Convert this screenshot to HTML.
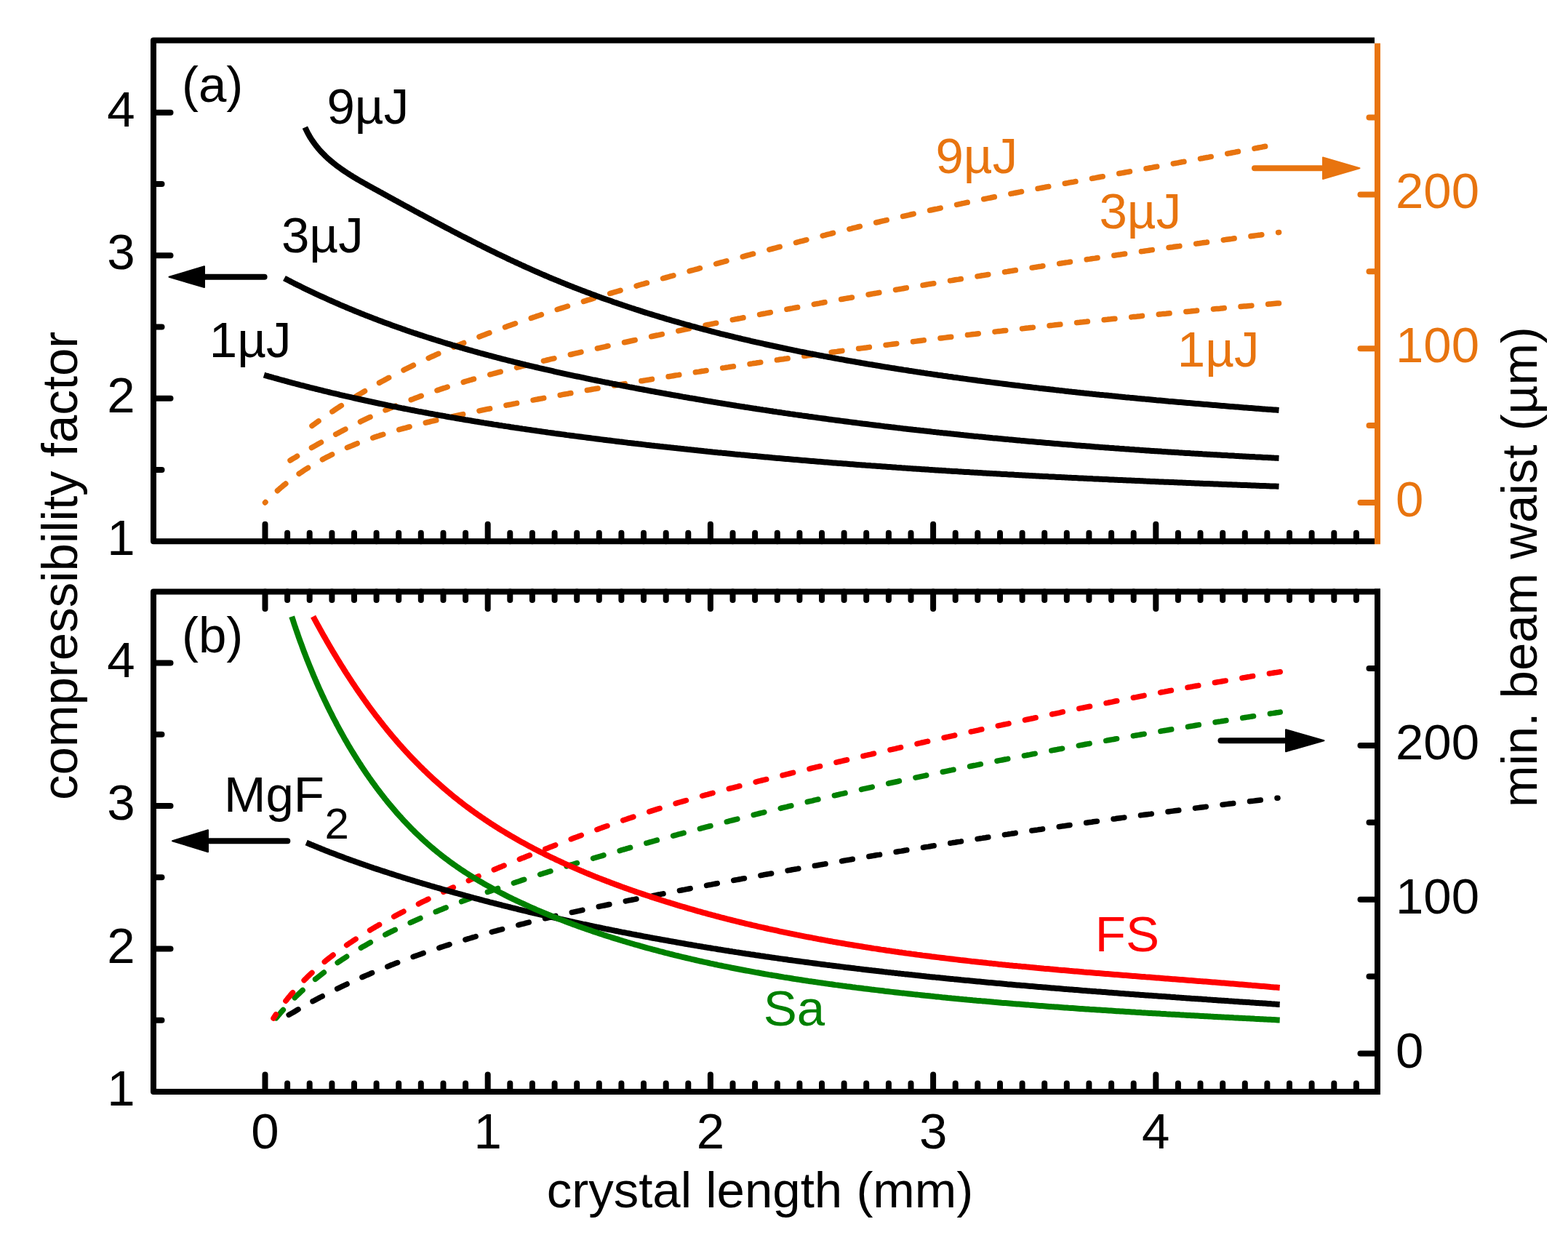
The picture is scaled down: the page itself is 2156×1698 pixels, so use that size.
<!DOCTYPE html>
<html><head><meta charset="utf-8"><title>plot</title><style>html,body{margin:0;padding:0;background:#fff;overflow:hidden}</style></head><body>
<svg xmlns="http://www.w3.org/2000/svg" width="2156" height="1698" viewBox="0 0 2156 1698" style="display:block;font-family:'Liberation Sans', Arial, sans-serif">
<rect width="2156" height="1698" fill="#fff"/>
<defs>
<clipPath id="clipa"><rect x="215" y="59.5" width="1675" height="680.7"/></clipPath>
<clipPath id="clipb"><rect x="215" y="817.5" width="1675" height="679.5"/></clipPath>
</defs>
<polyline clip-path="url(#clipa)" points="1758.6,416.9 1756.2,417.1 1753.8,417.3 1751.4,417.5 1749.0,417.7 1746.7,417.9 1744.3,418.1 1741.9,418.4 1739.5,418.6 1737.1,418.8 1734.7,419.0 1732.3,419.2 1729.9,419.4 1727.6,419.6 1725.2,419.8 1722.8,420.0 1720.4,420.3 1718.0,420.5 1715.6,420.7 1713.2,420.9 1710.8,421.1 1708.5,421.3 1706.1,421.5 1703.7,421.8 1701.3,422.0 1698.9,422.2 1696.5,422.4 1694.1,422.6 1691.7,422.8 1689.4,423.1 1687.0,423.3 1684.6,423.5 1682.2,423.7 1679.8,423.9 1677.4,424.2 1675.0,424.4 1672.6,424.6 1670.3,424.8 1667.9,425.0 1665.5,425.3 1663.1,425.5 1660.7,425.7 1658.3,425.9 1655.9,426.2 1653.5,426.4 1651.2,426.6 1648.8,426.8 1646.4,427.0 1644.0,427.3 1641.6,427.5 1639.2,427.7 1636.8,428.0 1634.4,428.2 1632.1,428.4 1629.7,428.6 1627.3,428.9 1624.9,429.1 1622.5,429.3 1620.1,429.5 1617.7,429.8 1615.3,430.0 1613.0,430.2 1610.6,430.5 1608.2,430.7 1605.8,430.9 1603.4,431.2 1601.0,431.4 1598.6,431.6 1596.2,431.9 1593.9,432.1 1591.5,432.3 1589.1,432.6 1586.7,432.8 1584.3,433.0 1581.9,433.3 1579.5,433.5 1577.2,433.7 1574.8,434.0 1572.4,434.2 1570.0,434.4 1567.6,434.7 1565.2,434.9 1562.8,435.2 1560.4,435.4 1558.1,435.6 1555.7,435.9 1553.3,436.1 1550.9,436.4 1548.5,436.6 1546.1,436.8 1543.7,437.1 1541.4,437.3 1539.0,437.6 1536.6,437.8 1534.2,438.1 1531.8,438.3 1529.4,438.5 1527.0,438.8 1524.6,439.0 1522.3,439.3 1519.9,439.5 1517.5,439.8 1515.1,440.0 1512.7,440.3 1510.3,440.5 1507.9,440.8 1505.6,441.0 1503.2,441.3 1500.8,441.5 1498.4,441.8 1496.0,442.0 1493.6,442.3 1491.2,442.5 1488.9,442.8 1486.5,443.0 1484.1,443.3 1481.7,443.5 1479.3,443.8 1476.9,444.0 1474.5,444.3 1472.2,444.5 1469.8,444.8 1467.4,445.0 1465.0,445.3 1462.6,445.6 1460.2,445.8 1457.8,446.1 1455.5,446.3 1453.1,446.6 1450.7,446.8 1448.3,447.1 1445.9,447.4 1443.5,447.6 1441.2,447.9 1438.8,448.1 1436.4,448.4 1434.0,448.7 1431.6,448.9 1429.2,449.2 1426.8,449.5 1424.5,449.7 1422.1,450.0 1419.7,450.3 1417.3,450.5 1414.9,450.8 1412.5,451.1 1410.2,451.3 1407.8,451.6 1405.4,451.9 1403.0,452.1 1400.6,452.4 1398.2,452.7 1395.9,452.9 1393.5,453.2 1391.1,453.5 1388.7,453.7 1386.3,454.0 1383.9,454.3 1381.6,454.6 1379.2,454.8 1376.8,455.1 1374.4,455.4 1372.0,455.6 1369.6,455.9 1367.3,456.2 1364.9,456.5 1362.5,456.8 1360.1,457.0 1357.7,457.3 1355.3,457.6 1353.0,457.9 1350.6,458.1 1348.2,458.4 1345.8,458.7 1343.4,459.0 1341.0,459.3 1338.7,459.5 1336.3,459.8 1333.9,460.1 1331.5,460.4 1329.1,460.7 1326.7,461.0 1324.4,461.2 1322.0,461.5 1319.6,461.8 1317.2,462.1 1314.8,462.4 1312.5,462.7 1310.1,463.0 1307.7,463.2 1305.3,463.5 1302.9,463.8 1300.5,464.1 1298.2,464.4 1295.8,464.7 1293.4,465.0 1291.0,465.3 1288.6,465.6 1286.3,465.8 1283.9,466.1 1281.5,466.4 1279.1,466.7 1276.7,467.0 1274.4,467.3 1272.0,467.6 1269.6,467.9 1267.2,468.2 1264.8,468.5 1262.5,468.8 1260.1,469.1 1257.7,469.4 1255.3,469.7 1252.9,470.0 1250.6,470.3 1248.2,470.6 1245.8,470.9 1243.4,471.2 1241.0,471.5 1238.7,471.8 1236.3,472.1 1233.9,472.4 1231.5,472.7 1229.1,473.0 1226.8,473.3 1224.4,473.6 1222.0,473.9 1219.6,474.2 1217.2,474.5 1214.9,474.9 1212.5,475.2 1210.1,475.5 1207.7,475.8 1205.4,476.1 1203.0,476.4 1200.6,476.7 1198.2,477.0 1195.8,477.3 1193.5,477.6 1191.1,478.0 1188.7,478.3 1186.3,478.6 1183.9,478.9 1181.6,479.2 1179.2,479.5 1176.8,479.9 1174.4,480.2 1172.1,480.5 1169.7,480.8 1167.3,481.1 1164.9,481.4 1162.6,481.8 1160.2,482.1 1157.8,482.4 1155.4,482.7 1153.0,483.0 1150.7,483.4 1148.3,483.7 1145.9,484.0 1143.5,484.3 1141.2,484.7 1138.8,485.0 1136.4,485.3 1134.0,485.6 1131.7,486.0 1129.3,486.3 1126.9,486.6 1124.5,487.0 1122.2,487.3 1119.8,487.6 1117.4,487.9 1115.0,488.3 1112.7,488.6 1110.3,488.9 1107.9,489.3 1105.5,489.6 1103.2,489.9 1100.8,490.3 1098.4,490.6 1096.0,490.9 1093.7,491.3 1091.3,491.6 1088.9,492.0 1086.5,492.3 1084.2,492.6 1081.8,493.0 1079.4,493.3 1077.1,493.7 1074.7,494.0 1072.3,494.3 1069.9,494.7 1067.6,495.0 1065.2,495.4 1062.8,495.7 1060.4,496.1 1058.1,496.4 1055.7,496.7 1053.3,497.1 1051.0,497.4 1048.6,497.8 1046.2,498.1 1043.8,498.5 1041.5,498.8 1039.1,499.2 1036.7,499.5 1034.3,499.9 1032.0,500.2 1029.6,500.6 1027.2,500.9 1024.9,501.3 1022.5,501.7 1020.1,502.0 1017.8,502.4 1015.4,502.7 1013.0,503.1 1010.6,503.4 1008.3,503.8 1005.9,504.1 1003.5,504.5 1001.2,504.9 998.8,505.2 996.4,505.6 994.1,505.9 991.7,506.3 989.3,506.7 986.9,507.0 984.6,507.4 982.2,507.8 979.8,508.1 977.5,508.5 975.1,508.9 972.7,509.2 970.4,509.6 968.0,510.0 965.6,510.3 963.3,510.7 960.9,511.1 958.5,511.4 956.2,511.8 953.8,512.2 951.4,512.6 949.1,512.9 946.7,513.3 944.3,513.7 942.0,514.1 939.6,514.4 937.2,514.8 934.9,515.2 932.5,515.6 930.1,515.9 927.8,516.3 925.4,516.7 923.0,517.1 920.7,517.5 918.3,517.8 915.9,518.2 913.6,518.6 911.2,519.0 908.8,519.4 906.5,519.8 904.1,520.2 901.7,520.5 899.4,520.9 897.0,521.3 894.6,521.7 892.3,522.1 889.9,522.5 887.5,522.9 885.2,523.3 882.8,523.7 880.5,524.0 878.1,524.4 875.7,524.8 873.4,525.2 871.0,525.6 868.6,526.0 866.3,526.4 863.9,526.8 861.6,527.2 859.2,527.6 856.8,528.0 854.5,528.4 852.1,528.8 849.7,529.2 847.4,529.6 845.0,530.0 842.7,530.4 840.3,530.8 837.9,531.2 835.6,531.6 833.2,532.0 830.9,532.4 828.5,532.8 826.1,533.2 823.8,533.7 821.4,534.1 819.0,534.5 816.7,534.9 814.3,535.3 812.0,535.7 809.6,536.1 807.2,536.5 804.9,537.0 802.5,537.4 800.2,537.8 797.8,538.2 795.5,538.6 793.1,539.0 790.7,539.5 788.4,539.9 786.0,540.3 783.7,540.7 781.3,541.2 778.9,541.6 776.6,542.0 774.2,542.4 771.9,542.9 769.5,543.3 767.1,543.7 764.8,544.2 762.4,544.6 760.1,545.0 757.7,545.5 755.4,545.9 753.0,546.3 750.6,546.8 748.3,547.2 745.9,547.7 743.6,548.1 741.2,548.5 738.9,549.0 736.5,549.4 734.1,549.9 731.8,550.3 729.4,550.8 727.1,551.2 724.7,551.7 722.4,552.1 720.0,552.6 717.6,553.0 715.3,553.5 712.9,554.0 710.6,554.4 708.2,554.9 705.8,555.3 703.5,555.8 701.1,556.3 698.8,556.7 696.4,557.2 694.1,557.7 691.7,558.1 689.3,558.6 687.0,559.1 684.6,559.6 682.3,560.0 679.9,560.5 677.6,561.0 675.2,561.5 672.8,562.0 670.5,562.4 668.1,562.9 665.8,563.4 663.4,563.9 661.1,564.4 658.7,564.9 656.3,565.4 654.0,565.9 651.6,566.4 649.3,566.9 646.9,567.4 644.6,567.9 642.2,568.4 639.8,568.9 637.5,569.4 635.1,569.9 632.8,570.4 630.4,570.9 628.0,571.4 625.7,571.9 623.3,572.5 621.0,573.0 618.6,573.5 616.3,574.0 613.9,574.5 611.5,575.1 609.2,575.6 606.8,576.1 604.5,576.7 602.1,577.2 599.8,577.8 597.4,578.3 595.1,578.9 592.7,579.4 590.4,580.0 588.0,580.5 585.7,581.1 583.3,581.7 581.0,582.2 578.6,582.8 576.3,583.4 574.0,584.0 571.6,584.6 569.3,585.2 567.0,585.8 564.6,586.4 562.3,587.0 560.0,587.6 557.7,588.3 555.4,588.9 553.0,589.5 550.7,590.2 548.4,590.8 546.1,591.5 543.8,592.1 541.5,592.8 539.2,593.5 536.9,594.2 534.6,594.9 532.3,595.6 530.0,596.3 527.7,597.0 525.5,597.7 523.2,598.4 520.9,599.2 518.7,599.9 516.4,600.7 514.1,601.4 511.9,602.2 509.6,603.0 507.4,603.8 505.1,604.6 502.9,605.4 500.7,606.2 498.4,607.0 496.2,607.9 494.0,608.7 491.8,609.5 489.6,610.4 487.4,611.3 485.2,612.2 483.0,613.1 480.8,614.0 478.6,614.9 476.4,615.8 474.3,616.7 472.1,617.7 470.0,618.7 467.8,619.6 465.7,620.6 463.5,621.6 461.4,622.6 459.3,623.6 457.1,624.7 455.0,625.7 452.9,626.8 450.8,627.8 448.7,628.9 446.6,630.0 444.5,631.1 442.5,632.2 440.4,633.3 438.3,634.5 436.3,635.7 434.2,636.8 432.2,638.0 430.2,639.2 428.1,640.4 426.1,641.6 424.1,642.9 422.1,644.1 420.1,645.4 418.1,646.7 416.2,648.0 414.2,649.3 412.2,650.6 410.3,652.0 408.3,653.3 406.4,654.7 404.5,656.1 402.6,657.5 400.7,658.9 398.8,660.4 396.9,661.8 395.0,663.3 393.1,664.8 391.3,666.3 389.4,667.8 387.6,669.4 385.7,670.9 383.9,672.5 382.1,674.1 380.3,675.7 378.5,677.3 376.7,679.0 374.9,680.6 373.2,682.3 371.4,684.0 369.6,685.7 367.9,687.4 366.2,689.2 364.5,691.0" fill="none" stroke="#E8740F" stroke-width="7.5" stroke-dasharray="14.908 22.859" stroke-dashoffset="-0.092" stroke-linejoin="round" stroke-linecap="round"/>
<polyline clip-path="url(#clipa)" points="1758.6,319.5 1756.3,319.8 1754.0,320.1 1751.6,320.4 1749.3,320.8 1747.0,321.1 1744.7,321.4 1742.3,321.7 1740.0,322.0 1737.7,322.3 1735.4,322.6 1733.1,323.0 1730.7,323.3 1728.4,323.6 1726.1,323.9 1723.8,324.2 1721.4,324.5 1719.1,324.9 1716.8,325.2 1714.5,325.5 1712.2,325.8 1709.8,326.1 1707.5,326.4 1705.2,326.8 1702.9,327.1 1700.5,327.4 1698.2,327.7 1695.9,328.0 1693.6,328.4 1691.3,328.7 1688.9,329.0 1686.6,329.3 1684.3,329.6 1682.0,330.0 1679.6,330.3 1677.3,330.6 1675.0,330.9 1672.7,331.2 1670.4,331.6 1668.0,331.9 1665.7,332.2 1663.4,332.5 1661.1,332.8 1658.7,333.2 1656.4,333.5 1654.1,333.8 1651.8,334.1 1649.5,334.5 1647.1,334.8 1644.8,335.1 1642.5,335.4 1640.2,335.7 1637.9,336.1 1635.5,336.4 1633.2,336.7 1630.9,337.0 1628.6,337.4 1626.2,337.7 1623.9,338.0 1621.6,338.4 1619.3,338.7 1617.0,339.0 1614.6,339.3 1612.3,339.7 1610.0,340.0 1607.7,340.3 1605.4,340.6 1603.0,341.0 1600.7,341.3 1598.4,341.6 1596.1,342.0 1593.8,342.3 1591.4,342.6 1589.1,343.0 1586.8,343.3 1584.5,343.6 1582.1,343.9 1579.8,344.3 1577.5,344.6 1575.2,344.9 1572.9,345.3 1570.5,345.6 1568.2,345.9 1565.9,346.3 1563.6,346.6 1561.3,346.9 1558.9,347.3 1556.6,347.6 1554.3,347.9 1552.0,348.3 1549.7,348.6 1547.3,349.0 1545.0,349.3 1542.7,349.6 1540.4,350.0 1538.1,350.3 1535.7,350.6 1533.4,351.0 1531.1,351.3 1528.8,351.6 1526.5,352.0 1524.2,352.3 1521.8,352.7 1519.5,353.0 1517.2,353.3 1514.9,353.7 1512.6,354.0 1510.2,354.4 1507.9,354.7 1505.6,355.1 1503.3,355.4 1501.0,355.7 1498.6,356.1 1496.3,356.4 1494.0,356.8 1491.7,357.1 1489.4,357.5 1487.0,357.8 1484.7,358.1 1482.4,358.5 1480.1,358.8 1477.8,359.2 1475.5,359.5 1473.1,359.9 1470.8,360.2 1468.5,360.6 1466.2,360.9 1463.9,361.3 1461.5,361.6 1459.2,362.0 1456.9,362.3 1454.6,362.7 1452.3,363.0 1450.0,363.4 1447.6,363.7 1445.3,364.1 1443.0,364.4 1440.7,364.8 1438.4,365.1 1436.1,365.5 1433.7,365.8 1431.4,366.2 1429.1,366.5 1426.8,366.9 1424.5,367.3 1422.2,367.6 1419.8,368.0 1417.5,368.3 1415.2,368.7 1412.9,369.0 1410.6,369.4 1408.3,369.8 1405.9,370.1 1403.6,370.5 1401.3,370.8 1399.0,371.2 1396.7,371.5 1394.4,371.9 1392.0,372.3 1389.7,372.6 1387.4,373.0 1385.1,373.4 1382.8,373.7 1380.5,374.1 1378.1,374.4 1375.8,374.8 1373.5,375.2 1371.2,375.5 1368.9,375.9 1366.6,376.3 1364.3,376.6 1361.9,377.0 1359.6,377.4 1357.3,377.7 1355.0,378.1 1352.7,378.5 1350.4,378.8 1348.1,379.2 1345.7,379.6 1343.4,380.0 1341.1,380.3 1338.8,380.7 1336.5,381.1 1334.2,381.4 1331.9,381.8 1329.5,382.2 1327.2,382.6 1324.9,382.9 1322.6,383.3 1320.3,383.7 1318.0,384.1 1315.7,384.4 1313.3,384.8 1311.0,385.2 1308.7,385.6 1306.4,385.9 1304.1,386.3 1301.8,386.7 1299.5,387.1 1297.2,387.5 1294.8,387.8 1292.5,388.2 1290.2,388.6 1287.9,389.0 1285.6,389.4 1283.3,389.8 1281.0,390.1 1278.7,390.5 1276.3,390.9 1274.0,391.3 1271.7,391.7 1269.4,392.1 1267.1,392.4 1264.8,392.8 1262.5,393.2 1260.2,393.6 1257.9,394.0 1255.5,394.4 1253.2,394.8 1250.9,395.2 1248.6,395.6 1246.3,395.9 1244.0,396.3 1241.7,396.7 1239.4,397.1 1237.1,397.5 1234.8,397.9 1232.4,398.3 1230.1,398.7 1227.8,399.1 1225.5,399.5 1223.2,399.9 1220.9,400.3 1218.6,400.7 1216.3,401.1 1214.0,401.5 1211.7,401.9 1209.3,402.3 1207.0,402.7 1204.7,403.1 1202.4,403.5 1200.1,403.9 1197.8,404.3 1195.5,404.7 1193.2,405.1 1190.9,405.5 1188.6,405.9 1186.3,406.3 1184.0,406.7 1181.6,407.1 1179.3,407.5 1177.0,407.9 1174.7,408.3 1172.4,408.8 1170.1,409.2 1167.8,409.6 1165.5,410.0 1163.2,410.4 1160.9,410.8 1158.6,411.2 1156.3,411.6 1154.0,412.1 1151.7,412.5 1149.4,412.9 1147.0,413.3 1144.7,413.7 1142.4,414.1 1140.1,414.5 1137.8,415.0 1135.5,415.4 1133.2,415.8 1130.9,416.2 1128.6,416.6 1126.3,417.1 1124.0,417.5 1121.7,417.9 1119.4,418.3 1117.1,418.8 1114.8,419.2 1112.5,419.6 1110.2,420.0 1107.9,420.5 1105.6,420.9 1103.3,421.3 1100.9,421.7 1098.6,422.2 1096.3,422.6 1094.0,423.0 1091.7,423.4 1089.4,423.9 1087.1,424.3 1084.8,424.7 1082.5,425.2 1080.2,425.6 1077.9,426.0 1075.6,426.5 1073.3,426.9 1071.0,427.4 1068.7,427.8 1066.4,428.2 1064.1,428.7 1061.8,429.1 1059.5,429.5 1057.2,430.0 1054.9,430.4 1052.6,430.9 1050.3,431.3 1048.0,431.7 1045.7,432.2 1043.4,432.6 1041.1,433.1 1038.8,433.5 1036.5,434.0 1034.2,434.4 1031.9,434.9 1029.6,435.3 1027.3,435.8 1025.0,436.2 1022.7,436.7 1020.4,437.1 1018.1,437.6 1015.8,438.0 1013.5,438.5 1011.2,438.9 1008.9,439.4 1006.6,439.8 1004.3,440.3 1002.0,440.7 999.7,441.2 997.4,441.7 995.1,442.1 992.8,442.6 990.5,443.0 988.2,443.5 985.9,444.0 983.6,444.4 981.3,444.9 979.0,445.3 976.7,445.8 974.4,446.3 972.1,446.7 969.8,447.2 967.5,447.7 965.2,448.1 962.9,448.6 960.7,449.1 958.4,449.5 956.1,450.0 953.8,450.5 951.5,451.0 949.2,451.4 946.9,451.9 944.6,452.4 942.3,452.9 940.0,453.3 937.7,453.8 935.4,454.3 933.1,454.8 930.8,455.2 928.5,455.7 926.2,456.2 923.9,456.7 921.6,457.2 919.3,457.6 917.1,458.1 914.8,458.6 912.5,459.1 910.2,459.6 907.9,460.1 905.6,460.6 903.3,461.0 901.0,461.5 898.7,462.0 896.4,462.5 894.1,463.0 891.8,463.5 889.6,464.0 887.3,464.5 885.0,465.0 882.7,465.5 880.4,466.0 878.1,466.5 875.8,467.0 873.5,467.5 871.2,468.0 868.9,468.5 866.6,469.0 864.4,469.5 862.1,470.0 859.8,470.5 857.5,471.0 855.2,471.5 852.9,472.0 850.6,472.5 848.3,473.0 846.0,473.5 843.8,474.0 841.5,474.5 839.2,475.0 836.9,475.5 834.6,476.0 832.3,476.6 830.0,477.1 827.7,477.6 825.5,478.1 823.2,478.6 820.9,479.1 818.6,479.6 816.3,480.2 814.0,480.7 811.7,481.2 809.5,481.7 807.2,482.2 804.9,482.8 802.6,483.3 800.3,483.8 798.0,484.3 795.7,484.9 793.5,485.4 791.2,485.9 788.9,486.4 786.6,487.0 784.3,487.5 782.0,488.0 779.8,488.6 777.5,489.1 775.2,489.6 772.9,490.2 770.6,490.7 768.3,491.2 766.1,491.8 763.8,492.3 761.5,492.9 759.2,493.4 756.9,493.9 754.7,494.5 752.4,495.0 750.1,495.6 747.8,496.1 745.5,496.7 743.3,497.2 741.0,497.8 738.7,498.3 736.4,498.9 734.2,499.5 731.9,500.0 729.6,500.6 727.3,501.1 725.1,501.7 722.8,502.3 720.5,502.8 718.2,503.4 716.0,504.0 713.7,504.5 711.4,505.1 709.2,505.7 706.9,506.3 704.6,506.8 702.4,507.4 700.1,508.0 697.8,508.6 695.6,509.2 693.3,509.8 691.0,510.4 688.8,511.0 686.5,511.6 684.2,512.2 682.0,512.8 679.7,513.4 677.5,514.0 675.2,514.6 672.9,515.2 670.7,515.8 668.4,516.4 666.2,517.0 663.9,517.7 661.7,518.3 659.4,518.9 657.2,519.5 654.9,520.2 652.7,520.8 650.4,521.4 648.2,522.1 645.9,522.7 643.7,523.4 641.5,524.0 639.2,524.7 637.0,525.4 634.7,526.0 632.5,526.7 630.3,527.4 628.0,528.1 625.8,528.7 623.6,529.4 621.4,530.1 619.1,530.8 616.9,531.5 614.7,532.2 612.5,533.0 610.2,533.7 608.0,534.4 605.8,535.1 603.6,535.9 601.4,536.6 599.2,537.3 597.0,538.1 594.8,538.8 592.6,539.6 590.4,540.4 588.2,541.2 586.0,541.9 583.8,542.7 581.6,543.5 579.4,544.3 577.2,545.1 575.0,545.9 572.8,546.7 570.7,547.5 568.5,548.4 566.3,549.2 564.1,550.0 562.0,550.9 559.8,551.7 557.6,552.6 555.4,553.4 553.3,554.3 551.1,555.1 549.0,556.0 546.8,556.9 544.6,557.8 542.5,558.7 540.3,559.6 538.2,560.5 536.0,561.4 533.9,562.3 531.7,563.2 529.6,564.1 527.5,565.1 525.3,566.0 523.2,566.9 521.1,567.9 518.9,568.8 516.8,569.8 514.7,570.8 512.6,571.7 510.4,572.7 508.3,573.7 506.2,574.7 504.1,575.7 502.0,576.7 499.9,577.7 497.8,578.7 495.7,579.7 493.6,580.8 491.5,581.8 489.4,582.8 487.3,583.9 485.2,584.9 483.1,586.0 481.0,587.0 478.9,588.1 476.8,589.2 474.7,590.2 472.7,591.3 470.6,592.4 468.5,593.5 466.4,594.6 464.4,595.7 462.3,596.8 460.2,597.9 458.2,599.0 456.1,600.1 454.0,601.2 452.0,602.4 449.9,603.5 447.9,604.6 445.8,605.8 443.7,606.9 441.7,608.1 439.6,609.2 437.6,610.4 435.6,611.5 433.5,612.7 431.5,613.9 429.4,615.0 427.4,616.2 425.3,617.4 423.3,618.6 421.3,619.8 419.2,620.9 417.2,622.1 415.2,623.3 413.2,624.5 411.1,625.7 409.1,626.9 407.1,628.2 405.1,629.4 403.0,630.6 401.0,631.8 399.0,633.0" fill="none" stroke="#E8740F" stroke-width="7.5" stroke-dasharray="15.002 23.003" stroke-dashoffset="14.002" stroke-linejoin="round" stroke-linecap="round"/>
<polyline clip-path="url(#clipa)" points="1739.7,201.3 1737.4,201.7 1735.2,202.2 1732.9,202.6 1730.6,203.0 1728.3,203.5 1726.0,203.9 1723.7,204.4 1721.4,204.8 1719.1,205.2 1716.9,205.7 1714.6,206.1 1712.3,206.6 1710.0,207.0 1707.7,207.4 1705.4,207.9 1703.1,208.3 1700.8,208.7 1698.5,209.2 1696.3,209.6 1694.0,210.0 1691.7,210.5 1689.4,210.9 1687.1,211.3 1684.8,211.8 1682.5,212.2 1680.2,212.6 1677.9,213.1 1675.6,213.5 1673.3,213.9 1671.1,214.4 1668.8,214.8 1666.5,215.2 1664.2,215.6 1661.9,216.1 1659.6,216.5 1657.3,216.9 1655.0,217.3 1652.7,217.8 1650.4,218.2 1648.1,218.6 1645.8,219.0 1643.6,219.5 1641.3,219.9 1639.0,220.3 1636.7,220.7 1634.4,221.1 1632.1,221.6 1629.8,222.0 1627.5,222.4 1625.2,222.8 1622.9,223.2 1620.6,223.7 1618.3,224.1 1616.0,224.5 1613.7,224.9 1611.4,225.3 1609.2,225.8 1606.9,226.2 1604.6,226.6 1602.3,227.0 1600.0,227.4 1597.7,227.9 1595.4,228.3 1593.1,228.7 1590.8,229.1 1588.5,229.5 1586.2,229.9 1583.9,230.4 1581.6,230.8 1579.3,231.2 1577.0,231.6 1574.7,232.0 1572.5,232.4 1570.2,232.9 1567.9,233.3 1565.6,233.7 1563.3,234.1 1561.0,234.5 1558.7,235.0 1556.4,235.4 1554.1,235.8 1551.8,236.2 1549.5,236.6 1547.2,237.0 1544.9,237.5 1542.6,237.9 1540.3,238.3 1538.0,238.7 1535.7,239.1 1533.4,239.5 1531.2,240.0 1528.9,240.4 1526.6,240.8 1524.3,241.2 1522.0,241.6 1519.7,242.1 1517.4,242.5 1515.1,242.9 1512.8,243.3 1510.5,243.7 1508.2,244.1 1505.9,244.6 1503.6,245.0 1501.3,245.4 1499.0,245.8 1496.7,246.2 1494.5,246.7 1492.2,247.1 1489.9,247.5 1487.6,247.9 1485.3,248.4 1483.0,248.8 1480.7,249.2 1478.4,249.6 1476.1,250.1 1473.8,250.5 1471.5,250.9 1469.2,251.3 1466.9,251.8 1464.6,252.2 1462.4,252.6 1460.1,253.0 1457.8,253.5 1455.5,253.9 1453.2,254.3 1450.9,254.7 1448.6,255.2 1446.3,255.6 1444.0,256.0 1441.7,256.5 1439.4,256.9 1437.1,257.3 1434.9,257.8 1432.6,258.2 1430.3,258.6 1428.0,259.1 1425.7,259.5 1423.4,259.9 1421.1,260.4 1418.8,260.8 1416.5,261.2 1414.2,261.7 1411.9,262.1 1409.7,262.6 1407.4,263.0 1405.1,263.4 1402.8,263.9 1400.5,264.3 1398.2,264.8 1395.9,265.2 1393.6,265.7 1391.3,266.1 1389.1,266.5 1386.8,267.0 1384.5,267.4 1382.2,267.9 1379.9,268.3 1377.6,268.8 1375.3,269.2 1373.0,269.7 1370.8,270.1 1368.5,270.6 1366.2,271.0 1363.9,271.5 1361.6,272.0 1359.3,272.4 1357.0,272.9 1354.8,273.3 1352.5,273.8 1350.2,274.2 1347.9,274.7 1345.6,275.2 1343.3,275.6 1341.1,276.1 1338.8,276.6 1336.5,277.0 1334.2,277.5 1331.9,278.0 1329.6,278.4 1327.4,278.9 1325.1,279.4 1322.8,279.8 1320.5,280.3 1318.2,280.8 1315.9,281.3 1313.7,281.7 1311.4,282.2 1309.1,282.7 1306.8,283.2 1304.5,283.7 1302.3,284.1 1300.0,284.6 1297.7,285.1 1295.4,285.6 1293.1,286.1 1290.9,286.6 1288.6,287.1 1286.3,287.5 1284.0,288.0 1281.8,288.5 1279.5,289.0 1277.2,289.5 1274.9,290.0 1272.7,290.5 1270.4,291.0 1268.1,291.5 1265.8,292.0 1263.6,292.5 1261.3,293.0 1259.0,293.5 1256.7,294.0 1254.5,294.5 1252.2,295.0 1249.9,295.6 1247.6,296.1 1245.4,296.6 1243.1,297.1 1240.8,297.6 1238.5,298.1 1236.3,298.6 1234.0,299.2 1231.7,299.7 1229.5,300.2 1227.2,300.7 1224.9,301.3 1222.7,301.8 1220.4,302.3 1218.1,302.8 1215.8,303.4 1213.6,303.9 1211.3,304.4 1209.0,305.0 1206.8,305.5 1204.5,306.0 1202.2,306.6 1200.0,307.1 1197.7,307.7 1195.4,308.2 1193.2,308.8 1190.9,309.3 1188.7,309.8 1186.4,310.4 1184.1,310.9 1181.9,311.5 1179.6,312.0 1177.3,312.6 1175.1,313.1 1172.8,313.7 1170.5,314.3 1168.3,314.8 1166.0,315.4 1163.8,315.9 1161.5,316.5 1159.2,317.0 1157.0,317.6 1154.7,318.2 1152.5,318.7 1150.2,319.3 1147.9,319.9 1145.7,320.4 1143.4,321.0 1141.2,321.6 1138.9,322.1 1136.6,322.7 1134.4,323.3 1132.1,323.8 1129.9,324.4 1127.6,325.0 1125.3,325.6 1123.1,326.1 1120.8,326.7 1118.6,327.3 1116.3,327.9 1114.1,328.5 1111.8,329.0 1109.6,329.6 1107.3,330.2 1105.0,330.8 1102.8,331.4 1100.5,331.9 1098.3,332.5 1096.0,333.1 1093.8,333.7 1091.5,334.3 1089.3,334.9 1087.0,335.5 1084.8,336.0 1082.5,336.6 1080.2,337.2 1078.0,337.8 1075.7,338.4 1073.5,339.0 1071.2,339.6 1069.0,340.2 1066.7,340.8 1064.5,341.4 1062.2,342.0 1060.0,342.6 1057.7,343.2 1055.5,343.7 1053.2,344.3 1051.0,344.9 1048.7,345.5 1046.5,346.1 1044.2,346.7 1042.0,347.3 1039.7,347.9 1037.5,348.5 1035.2,349.1 1033.0,349.7 1030.7,350.3 1028.5,350.9 1026.2,351.5 1024.0,352.1 1021.7,352.8 1019.5,353.4 1017.2,354.0 1015.0,354.6 1012.7,355.2 1010.5,355.8 1008.3,356.4 1006.0,357.0 1003.8,357.6 1001.5,358.2 999.3,358.8 997.0,359.4 994.8,360.0 992.5,360.6 990.3,361.2 988.0,361.8 985.8,362.4 983.5,363.1 981.3,363.7 979.1,364.3 976.8,364.9 974.6,365.5 972.3,366.1 970.1,366.7 967.8,367.3 965.6,367.9 963.3,368.5 961.1,369.1 958.8,369.8 956.6,370.4 954.4,371.0 952.1,371.6 949.9,372.2 947.6,372.8 945.4,373.4 943.1,374.1 940.9,374.7 938.7,375.3 936.4,375.9 934.2,376.5 931.9,377.1 929.7,377.8 927.4,378.4 925.2,379.0 923.0,379.6 920.7,380.2 918.5,380.9 916.2,381.5 914.0,382.1 911.7,382.7 909.5,383.4 907.3,384.0 905.0,384.6 902.8,385.2 900.5,385.9 898.3,386.5 896.1,387.1 893.8,387.7 891.6,388.4 889.3,389.0 887.1,389.6 884.8,390.3 882.6,390.9 880.4,391.5 878.1,392.2 875.9,392.8 873.6,393.5 871.4,394.1 869.2,394.7 866.9,395.4 864.7,396.0 862.4,396.7 860.2,397.3 858.0,397.9 855.7,398.6 853.5,399.2 851.2,399.9 849.0,400.5 846.8,401.2 844.5,401.8 842.3,402.5 840.0,403.1 837.8,403.8 835.6,404.4 833.3,405.1 831.1,405.8 828.8,406.4 826.6,407.1 824.4,407.7 822.1,408.4 819.9,409.1 817.6,409.7 815.4,410.4 813.2,411.1 810.9,411.8 808.7,412.4 806.5,413.1 804.2,413.8 802.0,414.5 799.8,415.1 797.5,415.8 795.3,416.5 793.0,417.2 790.8,417.9 788.6,418.6 786.3,419.2 784.1,419.9 781.9,420.6 779.7,421.3 777.4,422.0 775.2,422.7 773.0,423.4 770.7,424.1 768.5,424.8 766.3,425.5 764.1,426.2 761.8,427.0 759.6,427.7 757.4,428.4 755.2,429.1 752.9,429.8 750.7,430.5 748.5,431.3 746.3,432.0 744.1,432.7 741.8,433.5 739.6,434.2 737.4,434.9 735.2,435.7 733.0,436.4 730.8,437.2 728.5,437.9 726.3,438.6 724.1,439.4 721.9,440.2 719.7,440.9 717.5,441.7 715.3,442.4 713.1,443.2 710.9,444.0 708.7,444.7 706.5,445.5 704.3,446.3 702.1,447.1 699.9,447.8 697.7,448.6 695.5,449.4 693.3,450.2 691.1,451.0 688.9,451.8 686.7,452.6 684.5,453.4 682.3,454.2 680.1,455.0 678.0,455.8 675.8,456.6 673.6,457.5 671.4,458.3 669.2,459.1 667.1,459.9 664.9,460.8 662.7,461.6 660.5,462.4 658.4,463.3 656.2,464.1 654.0,465.0 651.8,465.8 649.7,466.7 647.5,467.5 645.4,468.4 643.2,469.3 641.0,470.1 638.9,471.0 636.7,471.9 634.6,472.8 632.4,473.7 630.3,474.5 628.1,475.4 626.0,476.3 623.8,477.2 621.7,478.1 619.5,479.0 617.4,480.0 615.3,480.9 613.1,481.8 611.0,482.7 608.9,483.6 606.7,484.6 604.6,485.5 602.5,486.4 600.3,487.4 598.2,488.3 596.1,489.3 594.0,490.2 591.9,491.2 589.8,492.2 587.6,493.1 585.5,494.1 583.4,495.1 581.3,496.1 579.2,497.1 577.1,498.0 575.0,499.0 572.9,500.0 570.8,501.0 568.7,502.0 566.6,503.1 564.6,504.1 562.5,505.1 560.4,506.1 558.3,507.2 556.2,508.2 554.2,509.2 552.1,510.3 550.0,511.3 547.9,512.4 545.9,513.4 543.8,514.5 541.8,515.6 539.7,516.7 537.6,517.7 535.6,518.8 533.5,519.9 531.5,521.0 529.4,522.1 527.4,523.2 525.4,524.3 523.3,525.4 521.3,526.5 519.3,527.7 517.2,528.8 515.2,529.9 513.2,531.1 511.1,532.2 509.1,533.4 507.1,534.5 505.1,535.7 503.1,536.9 501.1,538.0 499.1,539.2 497.1,540.4 495.1,541.6 493.1,542.8 491.1,544.0 489.1,545.2 487.1,546.4 485.1,547.6 483.1,548.8 481.2,550.1 479.2,551.3 477.2,552.5 475.3,553.8 473.3,555.0 471.3,556.3 469.4,557.6 467.4,558.8 465.5,560.1 463.5,561.4 461.6,562.7 459.6,564.0 457.7,565.3 455.7,566.6 453.8,567.9 451.9,569.2 450.0,570.5 448.0,571.8 446.1,573.2 444.2,574.5 442.3,575.9 440.4,577.2 438.5,578.6 436.6,579.9 434.7,581.3 432.8,582.7 430.9,584.1 429.0,585.5" fill="none" stroke="#E8740F" stroke-width="7.5" stroke-dasharray="14.953 22.928" stroke-dashoffset="-0.047" stroke-linejoin="round" stroke-linecap="round"/>
<polyline clip-path="url(#clipa)" points="419.4,175.1 420.4,177.3 421.5,179.5 422.5,181.6 423.7,183.8 424.8,185.8 426.0,187.9 427.2,189.9 428.5,191.9 429.8,193.8 431.1,195.7 432.5,197.6 433.9,199.5 435.3,201.3 436.8,203.1 438.2,204.8 439.8,206.6 441.3,208.3 442.9,209.9 444.5,211.6 446.1,213.2 447.7,214.8 449.4,216.4 451.1,217.9 452.8,219.4 454.5,221.0 456.3,222.4 458.1,223.9 459.9,225.3 461.7,226.8 463.5,228.2 465.4,229.5 467.3,230.9 469.2,232.3 471.1,233.6 473.0,234.9 474.9,236.2 476.9,237.5 478.8,238.8 480.8,240.0 482.8,241.3 484.8,242.5 486.8,243.8 488.9,245.0 490.9,246.2 492.9,247.4 495.0,248.6 497.0,249.8 499.1,250.9 501.2,252.1 503.3,253.3 505.3,254.5 507.4,255.6 509.5,256.8 511.6,257.9 513.7,259.1 515.8,260.2 517.9,261.4 520.0,262.5 522.1,263.7 524.2,264.8 526.3,266.0 528.4,267.1 530.4,268.3 532.5,269.4 534.6,270.6 536.7,271.7 538.8,272.9 540.9,274.0 543.0,275.2 545.1,276.3 547.2,277.5 549.3,278.6 551.4,279.8 553.5,280.9 555.6,282.1 557.7,283.2 559.8,284.3 561.9,285.5 564.0,286.6 566.1,287.8 568.2,288.9 570.3,290.1 572.4,291.2 574.5,292.3 576.6,293.5 578.7,294.6 580.9,295.7 583.0,296.9 585.1,298.0 587.2,299.1 589.3,300.3 591.4,301.4 593.5,302.5 595.6,303.6 597.7,304.8 599.8,305.9 601.9,307.0 604.1,308.1 606.2,309.3 608.3,310.4 610.4,311.5 612.5,312.6 614.6,313.7 616.7,314.8 618.9,315.9 621.0,317.1 623.1,318.2 625.2,319.3 627.3,320.4 629.5,321.5 631.6,322.6 633.7,323.7 635.8,324.8 637.9,325.8 640.1,326.9 642.2,328.0 644.3,329.1 646.5,330.2 648.6,331.3 650.7,332.4 652.8,333.4 655.0,334.5 657.1,335.6 659.2,336.7 661.4,337.7 663.5,338.8 665.6,339.8 667.8,340.9 669.9,342.0 672.1,343.0 674.2,344.1 676.3,345.1 678.5,346.2 680.6,347.2 682.8,348.3 684.9,349.3 687.1,350.3 689.2,351.4 691.4,352.4 693.5,353.4 695.7,354.4 697.8,355.5 700.0,356.5 702.1,357.5 704.3,358.5 706.4,359.5 708.6,360.5 710.8,361.5 712.9,362.5 715.1,363.5 717.2,364.5 719.4,365.5 721.6,366.5 723.7,367.5 725.9,368.4 728.1,369.4 730.3,370.4 732.4,371.4 734.6,372.3 736.8,373.3 739.0,374.2 741.1,375.2 743.3,376.1 745.5,377.1 747.7,378.0 749.9,379.0 752.0,379.9 754.2,380.8 756.4,381.8 758.6,382.7 760.8,383.6 763.0,384.5 765.2,385.4 767.4,386.3 769.6,387.2 771.8,388.1 774.0,389.0 776.2,389.9 778.4,390.8 780.6,391.7 782.8,392.6 785.0,393.4 787.2,394.3 789.4,395.2 791.6,396.0 793.8,396.9 796.1,397.8 798.3,398.6 800.5,399.5 802.7,400.3 804.9,401.1 807.1,402.0 809.4,402.8 811.6,403.6 813.8,404.5 816.0,405.3 818.3,406.1 820.5,406.9 822.7,407.7 825.0,408.6 827.2,409.4 829.4,410.2 831.6,411.0 833.9,411.8 836.1,412.5 838.4,413.3 840.6,414.1 842.8,414.9 845.1,415.7 847.3,416.4 849.6,417.2 851.8,418.0 854.1,418.7 856.3,419.5 858.6,420.3 860.8,421.0 863.1,421.8 865.3,422.5 867.6,423.3 869.8,424.0 872.1,424.7 874.3,425.5 876.6,426.2 878.8,426.9 881.1,427.6 883.4,428.4 885.6,429.1 887.9,429.8 890.2,430.5 892.4,431.2 894.7,431.9 897.0,432.6 899.2,433.3 901.5,434.0 903.8,434.7 906.0,435.4 908.3,436.1 910.6,436.7 912.9,437.4 915.1,438.1 917.4,438.8 919.7,439.4 922.0,440.1 924.2,440.8 926.5,441.4 928.8,442.1 931.1,442.7 933.4,443.4 935.7,444.0 937.9,444.7 940.2,445.3 942.5,446.0 944.8,446.6 947.1,447.2 949.4,447.9 951.7,448.5 954.0,449.1 956.3,449.7 958.5,450.4 960.8,451.0 963.1,451.6 965.4,452.2 967.7,452.8 970.0,453.4 972.3,454.0 974.6,454.6 976.9,455.2 979.2,455.8 981.5,456.4 983.8,457.0 986.1,457.6 988.4,458.2 990.7,458.8 993.0,459.3 995.4,459.9 997.7,460.5 1000.0,461.0 1002.3,461.6 1004.6,462.2 1006.9,462.7 1009.2,463.3 1011.5,463.9 1013.8,464.4 1016.1,465.0 1018.5,465.5 1020.8,466.1 1023.1,466.6 1025.4,467.2 1027.7,467.7 1030.0,468.2 1032.4,468.8 1034.7,469.3 1037.0,469.8 1039.3,470.4 1041.6,470.9 1044.0,471.4 1046.3,471.9 1048.6,472.4 1050.9,473.0 1053.2,473.5 1055.6,474.0 1057.9,474.5 1060.2,475.0 1062.6,475.5 1064.9,476.0 1067.2,476.5 1069.5,477.0 1071.9,477.5 1074.2,478.0 1076.5,478.5 1078.8,479.0 1081.2,479.5 1083.5,480.0 1085.8,480.4 1088.2,480.9 1090.5,481.4 1092.8,481.9 1095.2,482.3 1097.5,482.8 1099.8,483.3 1102.2,483.8 1104.5,484.2 1106.9,484.7 1109.2,485.2 1111.5,485.6 1113.9,486.1 1116.2,486.5 1118.5,487.0 1120.9,487.4 1123.2,487.9 1125.6,488.3 1127.9,488.8 1130.2,489.2 1132.6,489.7 1134.9,490.1 1137.3,490.5 1139.6,491.0 1141.9,491.4 1144.3,491.9 1146.6,492.3 1149.0,492.7 1151.3,493.1 1153.7,493.6 1156.0,494.0 1158.4,494.4 1160.7,494.8 1163.0,495.3 1165.4,495.7 1167.7,496.1 1170.1,496.5 1172.4,496.9 1174.8,497.3 1177.1,497.7 1179.5,498.1 1181.8,498.5 1184.2,499.0 1186.5,499.4 1188.9,499.8 1191.2,500.2 1193.6,500.6 1195.9,501.0 1198.3,501.3 1200.6,501.7 1203.0,502.1 1205.3,502.5 1207.7,502.9 1210.0,503.3 1212.4,503.7 1214.7,504.1 1217.1,504.5 1219.4,504.8 1221.8,505.2 1224.1,505.6 1226.5,506.0 1228.8,506.3 1231.2,506.7 1233.5,507.1 1235.9,507.5 1238.2,507.8 1240.6,508.2 1242.9,508.6 1245.3,508.9 1247.6,509.3 1250.0,509.7 1252.3,510.0 1254.7,510.4 1257.0,510.8 1259.4,511.1 1261.7,511.5 1264.1,511.8 1266.5,512.2 1268.8,512.5 1271.2,512.9 1273.5,513.2 1275.9,513.6 1278.2,513.9 1280.6,514.3 1282.9,514.6 1285.3,515.0 1287.6,515.3 1290.0,515.7 1292.4,516.0 1294.7,516.3 1297.1,516.7 1299.4,517.0 1301.8,517.3 1304.1,517.7 1306.5,518.0 1308.8,518.3 1311.2,518.7 1313.6,519.0 1315.9,519.3 1318.3,519.6 1320.6,520.0 1323.0,520.3 1325.3,520.6 1327.7,520.9 1330.1,521.3 1332.4,521.6 1334.8,521.9 1337.1,522.2 1339.5,522.5 1341.9,522.8 1344.2,523.2 1346.6,523.5 1348.9,523.8 1351.3,524.1 1353.6,524.4 1356.0,524.7 1358.4,525.0 1360.7,525.3 1363.1,525.6 1365.4,525.9 1367.8,526.2 1370.2,526.5 1372.5,526.8 1374.9,527.1 1377.2,527.4 1379.6,527.7 1382.0,528.0 1384.3,528.3 1386.7,528.6 1389.0,528.9 1391.4,529.2 1393.8,529.5 1396.1,529.8 1398.5,530.0 1400.9,530.3 1403.2,530.6 1405.6,530.9 1407.9,531.2 1410.3,531.5 1412.7,531.7 1415.0,532.0 1417.4,532.3 1419.8,532.6 1422.1,532.9 1424.5,533.1 1426.8,533.4 1429.2,533.7 1431.6,533.9 1433.9,534.2 1436.3,534.5 1438.7,534.8 1441.0,535.0 1443.4,535.3 1445.7,535.6 1448.1,535.8 1450.5,536.1 1452.8,536.4 1455.2,536.6 1457.6,536.9 1459.9,537.1 1462.3,537.4 1464.7,537.7 1467.0,537.9 1469.4,538.2 1471.8,538.4 1474.1,538.7 1476.5,538.9 1478.9,539.2 1481.2,539.5 1483.6,539.7 1485.9,540.0 1488.3,540.2 1490.7,540.5 1493.0,540.7 1495.4,540.9 1497.8,541.2 1500.1,541.4 1502.5,541.7 1504.9,541.9 1507.2,542.2 1509.6,542.4 1512.0,542.7 1514.3,542.9 1516.7,543.1 1519.1,543.4 1521.4,543.6 1523.8,543.8 1526.2,544.1 1528.5,544.3 1530.9,544.6 1533.3,544.8 1535.6,545.0 1538.0,545.3 1540.4,545.5 1542.7,545.7 1545.1,545.9 1547.5,546.2 1549.9,546.4 1552.2,546.6 1554.6,546.9 1557.0,547.1 1559.3,547.3 1561.7,547.5 1564.1,547.8 1566.4,548.0 1568.8,548.2 1571.2,548.4 1573.5,548.6 1575.9,548.9 1578.3,549.1 1580.6,549.3 1583.0,549.5 1585.4,549.7 1587.7,549.9 1590.1,550.2 1592.5,550.4 1594.9,550.6 1597.2,550.8 1599.6,551.0 1602.0,551.2 1604.3,551.4 1606.7,551.7 1609.1,551.9 1611.4,552.1 1613.8,552.3 1616.2,552.5 1618.6,552.7 1620.9,552.9 1623.3,553.1 1625.7,553.3 1628.0,553.5 1630.4,553.7 1632.8,553.9 1635.1,554.1 1637.5,554.3 1639.9,554.5 1642.3,554.7 1644.6,554.9 1647.0,555.1 1649.4,555.3 1651.7,555.5 1654.1,555.7 1656.5,555.9 1658.9,556.1 1661.2,556.3 1663.6,556.5 1666.0,556.7 1668.3,556.9 1670.7,557.1 1673.1,557.3 1675.5,557.5 1677.8,557.7 1680.2,557.9 1682.6,558.1 1684.9,558.3 1687.3,558.5 1689.7,558.7 1692.1,558.9 1694.4,559.0 1696.8,559.2 1699.2,559.4 1701.6,559.6 1703.9,559.8 1706.3,560.0 1708.7,560.2 1711.0,560.4 1713.4,560.5 1715.8,560.7 1718.2,560.9 1720.5,561.1 1722.9,561.3 1725.3,561.5 1727.7,561.7 1730.0,561.8 1732.4,562.0 1734.8,562.2 1737.1,562.4 1739.5,562.6 1741.9,562.7 1744.3,562.9 1746.6,563.1 1749.0,563.3 1751.4,563.5 1753.8,563.6 1756.1,563.8 1758.5,564.0" fill="none" stroke="#000" stroke-width="8" stroke-linejoin="round" stroke-linecap="butt"/>
<polyline clip-path="url(#clipa)" points="391.0,382.6 393.0,383.7 395.1,384.7 397.2,385.8 399.3,386.9 401.4,388.0 403.4,389.0 405.5,390.1 407.6,391.1 409.7,392.2 411.8,393.2 413.9,394.2 416.0,395.3 418.1,396.3 420.2,397.3 422.3,398.3 424.4,399.3 426.5,400.3 428.6,401.4 430.7,402.3 432.8,403.3 434.9,404.3 437.1,405.3 439.2,406.3 441.3,407.3 443.4,408.2 445.5,409.2 447.7,410.2 449.8,411.1 451.9,412.1 454.0,413.0 456.2,414.0 458.3,414.9 460.4,415.9 462.6,416.8 464.7,417.7 466.8,418.7 469.0,419.6 471.1,420.5 473.3,421.4 475.4,422.3 477.5,423.2 479.7,424.1 481.8,425.0 484.0,425.9 486.1,426.8 488.3,427.7 490.5,428.6 492.6,429.4 494.8,430.3 496.9,431.2 499.1,432.0 501.3,432.9 503.4,433.7 505.6,434.6 507.8,435.4 509.9,436.3 512.1,437.1 514.3,438.0 516.4,438.8 518.6,439.6 520.8,440.5 523.0,441.3 525.1,442.1 527.3,442.9 529.5,443.7 531.7,444.5 533.9,445.3 536.1,446.1 538.2,446.9 540.4,447.7 542.6,448.5 544.8,449.3 547.0,450.1 549.2,450.8 551.4,451.6 553.6,452.4 555.8,453.1 558.0,453.9 560.2,454.7 562.4,455.4 564.6,456.2 566.8,456.9 569.0,457.7 571.2,458.4 573.4,459.1 575.6,459.9 577.8,460.6 580.1,461.3 582.3,462.1 584.5,462.8 586.7,463.5 588.9,464.2 591.1,464.9 593.3,465.6 595.6,466.3 597.8,467.0 600.0,467.7 602.2,468.4 604.5,469.1 606.7,469.8 608.9,470.5 611.1,471.2 613.4,471.9 615.6,472.6 617.8,473.2 620.1,473.9 622.3,474.6 624.5,475.2 626.8,475.9 629.0,476.6 631.2,477.2 633.5,477.9 635.7,478.5 637.9,479.2 640.2,479.8 642.4,480.4 644.7,481.1 646.9,481.7 649.2,482.3 651.4,483.0 653.7,483.6 655.9,484.2 658.1,484.9 660.4,485.5 662.6,486.1 664.9,486.7 667.2,487.3 669.4,487.9 671.7,488.5 673.9,489.1 676.2,489.7 678.4,490.3 680.7,490.9 682.9,491.5 685.2,492.1 687.5,492.7 689.7,493.3 692.0,493.9 694.2,494.4 696.5,495.0 698.8,495.6 701.0,496.2 703.3,496.7 705.6,497.3 707.8,497.9 710.1,498.4 712.4,499.0 714.6,499.5 716.9,500.1 719.2,500.7 721.4,501.2 723.7,501.8 726.0,502.3 728.3,502.9 730.5,503.4 732.8,503.9 735.1,504.5 737.4,505.0 739.6,505.5 741.9,506.1 744.2,506.6 746.5,507.1 748.7,507.7 751.0,508.2 753.3,508.7 755.6,509.2 757.9,509.7 760.1,510.2 762.4,510.8 764.7,511.3 767.0,511.8 769.3,512.3 771.6,512.8 773.8,513.3 776.1,513.8 778.4,514.3 780.7,514.8 783.0,515.3 785.3,515.8 787.6,516.3 789.8,516.8 792.1,517.3 794.4,517.7 796.7,518.2 799.0,518.7 801.3,519.2 803.6,519.7 805.9,520.2 808.2,520.6 810.4,521.1 812.7,521.6 815.0,522.1 817.3,522.5 819.6,523.0 821.9,523.5 824.2,523.9 826.5,524.4 828.8,524.9 831.1,525.3 833.4,525.8 835.7,526.2 838.0,526.7 840.3,527.1 842.6,527.6 844.9,528.0 847.1,528.5 849.4,529.0 851.7,529.4 854.0,529.8 856.3,530.3 858.6,530.7 860.9,531.2 863.2,531.6 865.5,532.1 867.8,532.5 870.1,532.9 872.4,533.4 874.7,533.8 877.0,534.3 879.3,534.7 881.6,535.1 883.9,535.5 886.2,536.0 888.5,536.4 890.8,536.8 893.1,537.3 895.4,537.7 897.7,538.1 900.0,538.5 902.3,539.0 904.6,539.4 906.9,539.8 909.2,540.2 911.5,540.6 913.8,541.0 916.1,541.5 918.4,541.9 920.7,542.3 923.0,542.7 925.3,543.1 927.6,543.5 929.9,543.9 932.2,544.3 934.5,544.7 936.8,545.1 939.1,545.6 941.4,546.0 943.7,546.4 946.0,546.8 948.3,547.2 950.6,547.5 952.9,547.9 955.2,548.3 957.5,548.7 959.8,549.1 962.1,549.5 964.5,549.9 966.8,550.3 969.1,550.7 971.4,551.1 973.7,551.5 976.0,551.8 978.3,552.2 980.6,552.6 982.9,553.0 985.2,553.4 987.5,553.8 989.8,554.1 992.1,554.5 994.4,554.9 996.7,555.3 999.0,555.6 1001.3,556.0 1003.6,556.4 1005.9,556.8 1008.3,557.1 1010.6,557.5 1012.9,557.9 1015.2,558.2 1017.5,558.6 1019.8,559.0 1022.1,559.3 1024.4,559.7 1026.7,560.0 1029.0,560.4 1031.3,560.8 1033.6,561.1 1035.9,561.5 1038.2,561.8 1040.6,562.2 1042.9,562.5 1045.2,562.9 1047.5,563.2 1049.8,563.6 1052.1,563.9 1054.4,564.3 1056.7,564.6 1059.0,565.0 1061.3,565.3 1063.6,565.7 1066.0,566.0 1068.3,566.4 1070.6,566.7 1072.9,567.0 1075.2,567.4 1077.5,567.7 1079.8,568.1 1082.1,568.4 1084.4,568.7 1086.7,569.1 1089.1,569.4 1091.4,569.7 1093.7,570.1 1096.0,570.4 1098.3,570.7 1100.6,571.0 1102.9,571.4 1105.2,571.7 1107.6,572.0 1109.9,572.3 1112.2,572.7 1114.5,573.0 1116.8,573.3 1119.1,573.6 1121.4,573.9 1123.7,574.3 1126.1,574.6 1128.4,574.9 1130.7,575.2 1133.0,575.5 1135.3,575.8 1137.6,576.1 1139.9,576.5 1142.2,576.8 1144.6,577.1 1146.9,577.4 1149.2,577.7 1151.5,578.0 1153.8,578.3 1156.1,578.6 1158.4,578.9 1160.8,579.2 1163.1,579.5 1165.4,579.8 1167.7,580.1 1170.0,580.4 1172.3,580.7 1174.7,581.0 1177.0,581.3 1179.3,581.6 1181.6,581.9 1183.9,582.2 1186.2,582.5 1188.5,582.7 1190.9,583.0 1193.2,583.3 1195.5,583.6 1197.8,583.9 1200.1,584.2 1202.4,584.5 1204.8,584.8 1207.1,585.0 1209.4,585.3 1211.7,585.6 1214.0,585.9 1216.3,586.2 1218.7,586.4 1221.0,586.7 1223.3,587.0 1225.6,587.3 1227.9,587.5 1230.3,587.8 1232.6,588.1 1234.9,588.4 1237.2,588.6 1239.5,588.9 1241.8,589.2 1244.2,589.4 1246.5,589.7 1248.8,590.0 1251.1,590.2 1253.4,590.5 1255.8,590.8 1258.1,591.0 1260.4,591.3 1262.7,591.5 1265.0,591.8 1267.4,592.1 1269.7,592.3 1272.0,592.6 1274.3,592.8 1276.6,593.1 1279.0,593.3 1281.3,593.6 1283.6,593.9 1285.9,594.1 1288.2,594.4 1290.6,594.6 1292.9,594.9 1295.2,595.1 1297.5,595.4 1299.8,595.6 1302.2,595.8 1304.5,596.1 1306.8,596.3 1309.1,596.6 1311.4,596.8 1313.8,597.1 1316.1,597.3 1318.4,597.5 1320.7,597.8 1323.1,598.0 1325.4,598.3 1327.7,598.5 1330.0,598.7 1332.3,599.0 1334.7,599.2 1337.0,599.4 1339.3,599.7 1341.6,599.9 1344.0,600.1 1346.3,600.4 1348.6,600.6 1350.9,600.8 1353.2,601.0 1355.6,601.3 1357.9,601.5 1360.2,601.7 1362.5,601.9 1364.9,602.2 1367.2,602.4 1369.5,602.6 1371.8,602.8 1374.2,603.1 1376.5,603.3 1378.8,603.5 1381.1,603.7 1383.5,603.9 1385.8,604.1 1388.1,604.4 1390.4,604.6 1392.8,604.8 1395.1,605.0 1397.4,605.2 1399.7,605.4 1402.1,605.6 1404.4,605.9 1406.7,606.1 1409.0,606.3 1411.4,606.5 1413.7,606.7 1416.0,606.9 1418.3,607.1 1420.7,607.3 1423.0,607.5 1425.3,607.7 1427.6,607.9 1430.0,608.1 1432.3,608.3 1434.6,608.5 1436.9,608.7 1439.3,608.9 1441.6,609.1 1443.9,609.3 1446.2,609.5 1448.6,609.7 1450.9,609.9 1453.2,610.1 1455.5,610.3 1457.9,610.5 1460.2,610.7 1462.5,610.9 1464.9,611.1 1467.2,611.2 1469.5,611.4 1471.8,611.6 1474.2,611.8 1476.5,612.0 1478.8,612.2 1481.1,612.4 1483.5,612.5 1485.8,612.7 1488.1,612.9 1490.5,613.1 1492.8,613.3 1495.1,613.5 1497.4,613.6 1499.8,613.8 1502.1,614.0 1504.4,614.2 1506.7,614.4 1509.1,614.5 1511.4,614.7 1513.7,614.9 1516.1,615.1 1518.4,615.2 1520.7,615.4 1523.0,615.6 1525.4,615.8 1527.7,615.9 1530.0,616.1 1532.4,616.3 1534.7,616.4 1537.0,616.6 1539.3,616.8 1541.7,616.9 1544.0,617.1 1546.3,617.3 1548.7,617.4 1551.0,617.6 1553.3,617.8 1555.7,617.9 1558.0,618.1 1560.3,618.3 1562.6,618.4 1565.0,618.6 1567.3,618.8 1569.6,618.9 1572.0,619.1 1574.3,619.2 1576.6,619.4 1578.9,619.5 1581.3,619.7 1583.6,619.9 1585.9,620.0 1588.3,620.2 1590.6,620.3 1592.9,620.5 1595.3,620.6 1597.6,620.8 1599.9,620.9 1602.3,621.1 1604.6,621.2 1606.9,621.4 1609.2,621.5 1611.6,621.7 1613.9,621.8 1616.2,622.0 1618.6,622.1 1620.9,622.3 1623.2,622.4 1625.6,622.6 1627.9,622.7 1630.2,622.9 1632.6,623.0 1634.9,623.1 1637.2,623.3 1639.5,623.4 1641.9,623.6 1644.2,623.7 1646.5,623.8 1648.9,624.0 1651.2,624.1 1653.5,624.3 1655.9,624.4 1658.2,624.5 1660.5,624.7 1662.9,624.8 1665.2,624.9 1667.5,625.1 1669.9,625.2 1672.2,625.3 1674.5,625.5 1676.9,625.6 1679.2,625.7 1681.5,625.9 1683.9,626.0 1686.2,626.1 1688.5,626.3 1690.8,626.4 1693.2,626.5 1695.5,626.6 1697.8,626.8 1700.2,626.9 1702.5,627.0 1704.8,627.2 1707.2,627.3 1709.5,627.4 1711.8,627.5 1714.2,627.7 1716.5,627.8 1718.8,627.9 1721.2,628.0 1723.5,628.1 1725.8,628.3 1728.2,628.4 1730.5,628.5 1732.8,628.6 1735.2,628.7 1737.5,628.9 1739.8,629.0 1742.2,629.1 1744.5,629.2 1746.8,629.3 1749.2,629.4 1751.5,629.6 1753.8,629.7 1756.2,629.8 1758.5,629.9" fill="none" stroke="#000" stroke-width="8" stroke-linejoin="round" stroke-linecap="butt"/>
<polyline clip-path="url(#clipa)" points="363.0,515.6 365.2,516.3 367.5,516.9 369.7,517.6 372.0,518.2 374.3,518.8 376.5,519.5 378.8,520.1 381.0,520.7 383.3,521.4 385.6,522.0 387.8,522.6 390.1,523.2 392.4,523.8 394.6,524.4 396.9,525.1 399.1,525.7 401.4,526.3 403.7,526.9 406.0,527.5 408.2,528.1 410.5,528.7 412.8,529.3 415.0,529.8 417.3,530.4 419.6,531.0 421.8,531.6 424.1,532.2 426.4,532.8 428.7,533.3 430.9,533.9 433.2,534.5 435.5,535.0 437.8,535.6 440.0,536.2 442.3,536.7 444.6,537.3 446.9,537.9 449.2,538.4 451.4,539.0 453.7,539.5 456.0,540.1 458.3,540.6 460.6,541.1 462.8,541.7 465.1,542.2 467.4,542.8 469.7,543.3 472.0,543.8 474.3,544.4 476.5,544.9 478.8,545.4 481.1,545.9 483.4,546.4 485.7,547.0 488.0,547.5 490.3,548.0 492.6,548.5 494.8,549.0 497.1,549.5 499.4,550.0 501.7,550.5 504.0,551.0 506.3,551.5 508.6,552.0 510.9,552.5 513.2,553.0 515.5,553.5 517.8,554.0 520.1,554.5 522.3,555.0 524.6,555.4 526.9,555.9 529.2,556.4 531.5,556.9 533.8,557.4 536.1,557.8 538.4,558.3 540.7,558.8 543.0,559.2 545.3,559.7 547.6,560.2 549.9,560.6 552.2,561.1 554.5,561.5 556.8,562.0 559.1,562.4 561.4,562.9 563.7,563.3 566.0,563.8 568.3,564.2 570.6,564.7 572.9,565.1 575.2,565.6 577.6,566.0 579.9,566.4 582.2,566.9 584.5,567.3 586.8,567.7 589.1,568.2 591.4,568.6 593.7,569.0 596.0,569.4 598.3,569.9 600.6,570.3 602.9,570.7 605.2,571.1 607.6,571.5 609.9,571.9 612.2,572.3 614.5,572.8 616.8,573.2 619.1,573.6 621.4,574.0 623.7,574.4 626.0,574.8 628.4,575.2 630.7,575.6 633.0,576.0 635.3,576.4 637.6,576.8 639.9,577.2 642.2,577.5 644.6,577.9 646.9,578.3 649.2,578.7 651.5,579.1 653.8,579.5 656.1,579.8 658.5,580.2 660.8,580.6 663.1,581.0 665.4,581.4 667.7,581.7 670.0,582.1 672.4,582.5 674.7,582.8 677.0,583.2 679.3,583.6 681.6,583.9 684.0,584.3 686.3,584.7 688.6,585.0 690.9,585.4 693.2,585.7 695.6,586.1 697.9,586.4 700.2,586.8 702.5,587.2 704.8,587.5 707.2,587.9 709.5,588.2 711.8,588.5 714.1,588.9 716.5,589.2 718.8,589.6 721.1,589.9 723.4,590.3 725.8,590.6 728.1,590.9 730.4,591.3 732.7,591.6 735.1,591.9 737.4,592.3 739.7,592.6 742.0,592.9 744.4,593.3 746.7,593.6 749.0,593.9 751.3,594.2 753.7,594.6 756.0,594.9 758.3,595.2 760.6,595.5 763.0,595.9 765.3,596.2 767.6,596.5 770.0,596.8 772.3,597.1 774.6,597.4 776.9,597.7 779.3,598.1 781.6,598.4 783.9,598.7 786.3,599.0 788.6,599.3 790.9,599.6 793.2,599.9 795.6,600.2 797.9,600.5 800.2,600.8 802.6,601.1 804.9,601.4 807.2,601.7 809.6,602.0 811.9,602.3 814.2,602.6 816.6,602.9 818.9,603.2 821.2,603.5 823.5,603.8 825.9,604.1 828.2,604.4 830.5,604.7 832.9,605.0 835.2,605.3 837.5,605.5 839.9,605.8 842.2,606.1 844.5,606.4 846.9,606.7 849.2,607.0 851.5,607.3 853.9,607.5 856.2,607.8 858.5,608.1 860.9,608.4 863.2,608.7 865.5,608.9 867.9,609.2 870.2,609.5 872.5,609.8 874.9,610.0 877.2,610.3 879.5,610.6 881.9,610.8 884.2,611.1 886.5,611.4 888.9,611.7 891.2,611.9 893.5,612.2 895.9,612.5 898.2,612.7 900.5,613.0 902.9,613.2 905.2,613.5 907.5,613.8 909.9,614.0 912.2,614.3 914.5,614.5 916.9,614.8 919.2,615.1 921.6,615.3 923.9,615.6 926.2,615.8 928.6,616.1 930.9,616.3 933.2,616.6 935.6,616.8 937.9,617.1 940.2,617.3 942.6,617.6 944.9,617.8 947.3,618.1 949.6,618.3 951.9,618.6 954.3,618.8 956.6,619.1 958.9,619.3 961.3,619.6 963.6,619.8 965.9,620.0 968.3,620.3 970.6,620.5 973.0,620.8 975.3,621.0 977.6,621.2 980.0,621.5 982.3,621.7 984.7,621.9 987.0,622.2 989.3,622.4 991.7,622.6 994.0,622.9 996.3,623.1 998.7,623.3 1001.0,623.6 1003.4,623.8 1005.7,624.0 1008.0,624.2 1010.4,624.5 1012.7,624.7 1015.1,624.9 1017.4,625.1 1019.7,625.4 1022.1,625.6 1024.4,625.8 1026.8,626.0 1029.1,626.2 1031.4,626.5 1033.8,626.7 1036.1,626.9 1038.5,627.1 1040.8,627.3 1043.1,627.6 1045.5,627.8 1047.8,628.0 1050.2,628.2 1052.5,628.4 1054.8,628.6 1057.2,628.8 1059.5,629.0 1061.9,629.3 1064.2,629.5 1066.5,629.7 1068.9,629.9 1071.2,630.1 1073.6,630.3 1075.9,630.5 1078.2,630.7 1080.6,630.9 1082.9,631.1 1085.3,631.3 1087.6,631.5 1090.0,631.7 1092.3,631.9 1094.6,632.1 1097.0,632.3 1099.3,632.5 1101.7,632.7 1104.0,632.9 1106.3,633.1 1108.7,633.3 1111.0,633.5 1113.4,633.7 1115.7,633.9 1118.1,634.1 1120.4,634.3 1122.7,634.5 1125.1,634.7 1127.4,634.8 1129.8,635.0 1132.1,635.2 1134.5,635.4 1136.8,635.6 1139.1,635.8 1141.5,636.0 1143.8,636.2 1146.2,636.4 1148.5,636.5 1150.9,636.7 1153.2,636.9 1155.5,637.1 1157.9,637.3 1160.2,637.5 1162.6,637.6 1164.9,637.8 1167.3,638.0 1169.6,638.2 1172.0,638.3 1174.3,638.5 1176.6,638.7 1179.0,638.9 1181.3,639.1 1183.7,639.2 1186.0,639.4 1188.4,639.6 1190.7,639.8 1193.1,639.9 1195.4,640.1 1197.7,640.3 1200.1,640.4 1202.4,640.6 1204.8,640.8 1207.1,641.0 1209.5,641.1 1211.8,641.3 1214.2,641.5 1216.5,641.6 1218.8,641.8 1221.2,642.0 1223.5,642.1 1225.9,642.3 1228.2,642.5 1230.6,642.6 1232.9,642.8 1235.3,642.9 1237.6,643.1 1239.9,643.3 1242.3,643.4 1244.6,643.6 1247.0,643.7 1249.3,643.9 1251.7,644.1 1254.0,644.2 1256.4,644.4 1258.7,644.5 1261.1,644.7 1263.4,644.8 1265.7,645.0 1268.1,645.2 1270.4,645.3 1272.8,645.5 1275.1,645.6 1277.5,645.8 1279.8,645.9 1282.2,646.1 1284.5,646.2 1286.9,646.4 1289.2,646.5 1291.6,646.7 1293.9,646.8 1296.2,647.0 1298.6,647.1 1300.9,647.3 1303.3,647.4 1305.6,647.6 1308.0,647.7 1310.3,647.9 1312.7,648.0 1315.0,648.1 1317.4,648.3 1319.7,648.4 1322.1,648.6 1324.4,648.7 1326.7,648.9 1329.1,649.0 1331.4,649.1 1333.8,649.3 1336.1,649.4 1338.5,649.6 1340.8,649.7 1343.2,649.8 1345.5,650.0 1347.9,650.1 1350.2,650.2 1352.6,650.4 1354.9,650.5 1357.3,650.7 1359.6,650.8 1361.9,650.9 1364.3,651.1 1366.6,651.2 1369.0,651.3 1371.3,651.5 1373.7,651.6 1376.0,651.7 1378.4,651.9 1380.7,652.0 1383.1,652.1 1385.4,652.3 1387.8,652.4 1390.1,652.5 1392.5,652.6 1394.8,652.8 1397.2,652.9 1399.5,653.0 1401.8,653.2 1404.2,653.3 1406.5,653.4 1408.9,653.5 1411.2,653.7 1413.6,653.8 1415.9,653.9 1418.3,654.0 1420.6,654.2 1423.0,654.3 1425.3,654.4 1427.7,654.5 1430.0,654.7 1432.4,654.8 1434.7,654.9 1437.1,655.0 1439.4,655.1 1441.7,655.3 1444.1,655.4 1446.4,655.5 1448.8,655.6 1451.1,655.7 1453.5,655.9 1455.8,656.0 1458.2,656.1 1460.5,656.2 1462.9,656.3 1465.2,656.4 1467.6,656.6 1469.9,656.7 1472.3,656.8 1474.6,656.9 1477.0,657.0 1479.3,657.1 1481.7,657.2 1484.0,657.4 1486.3,657.5 1488.7,657.6 1491.0,657.7 1493.4,657.8 1495.7,657.9 1498.1,658.0 1500.4,658.1 1502.8,658.3 1505.1,658.4 1507.5,658.5 1509.8,658.6 1512.2,658.7 1514.5,658.8 1516.9,658.9 1519.2,659.0 1521.6,659.1 1523.9,659.2 1526.2,659.4 1528.6,659.5 1530.9,659.6 1533.3,659.7 1535.6,659.8 1538.0,659.9 1540.3,660.0 1542.7,660.1 1545.0,660.2 1547.4,660.3 1549.7,660.4 1552.1,660.5 1554.4,660.6 1556.8,660.7 1559.1,660.8 1561.5,660.9 1563.8,661.0 1566.1,661.1 1568.5,661.2 1570.8,661.3 1573.2,661.4 1575.5,661.6 1577.9,661.7 1580.2,661.8 1582.6,661.9 1584.9,662.0 1587.3,662.1 1589.6,662.2 1592.0,662.3 1594.3,662.4 1596.7,662.5 1599.0,662.6 1601.3,662.7 1603.7,662.8 1606.0,662.8 1608.4,662.9 1610.7,663.0 1613.1,663.1 1615.4,663.2 1617.8,663.3 1620.1,663.4 1622.5,663.5 1624.8,663.6 1627.2,663.7 1629.5,663.8 1631.9,663.9 1634.2,664.0 1636.5,664.1 1638.9,664.2 1641.2,664.3 1643.6,664.4 1645.9,664.5 1648.3,664.6 1650.6,664.7 1653.0,664.8 1655.3,664.9 1657.7,665.0 1660.0,665.0 1662.4,665.1 1664.7,665.2 1667.0,665.3 1669.4,665.4 1671.7,665.5 1674.1,665.6 1676.4,665.7 1678.8,665.8 1681.1,665.9 1683.5,666.0 1685.8,666.1 1688.2,666.2 1690.5,666.2 1692.8,666.3 1695.2,666.4 1697.5,666.5 1699.9,666.6 1702.2,666.7 1704.6,666.8 1706.9,666.9 1709.3,667.0 1711.6,667.1 1713.9,667.1 1716.3,667.2 1718.6,667.3 1721.0,667.4 1723.3,667.5 1725.7,667.6 1728.0,667.7 1730.4,667.8 1732.7,667.9 1735.1,667.9 1737.4,668.0 1739.7,668.1 1742.1,668.2 1744.4,668.3 1746.8,668.4 1749.1,668.5 1751.5,668.6 1753.8,668.6 1756.2,668.7 1758.5,668.8" fill="none" stroke="#000" stroke-width="8" stroke-linejoin="round" stroke-linecap="butt"/>
<polyline clip-path="url(#clipb)" points="1757.0,1097.2 1754.7,1097.5 1752.3,1097.7 1750.0,1098.0 1747.7,1098.3 1745.3,1098.6 1743.0,1098.8 1740.7,1099.1 1738.3,1099.4 1736.0,1099.7 1733.7,1100.0 1731.3,1100.2 1729.0,1100.5 1726.7,1100.8 1724.4,1101.1 1722.0,1101.4 1719.7,1101.6 1717.4,1101.9 1715.0,1102.2 1712.7,1102.5 1710.4,1102.8 1708.0,1103.0 1705.7,1103.3 1703.4,1103.6 1701.1,1103.9 1698.7,1104.2 1696.4,1104.5 1694.1,1104.8 1691.7,1105.0 1689.4,1105.3 1687.1,1105.6 1684.8,1105.9 1682.4,1106.2 1680.1,1106.5 1677.8,1106.8 1675.4,1107.1 1673.1,1107.4 1670.8,1107.6 1668.5,1107.9 1666.1,1108.2 1663.8,1108.5 1661.5,1108.8 1659.1,1109.1 1656.8,1109.4 1654.5,1109.7 1652.2,1110.0 1649.8,1110.3 1647.5,1110.6 1645.2,1110.9 1642.9,1111.2 1640.5,1111.5 1638.2,1111.8 1635.9,1112.1 1633.5,1112.4 1631.2,1112.7 1628.9,1113.0 1626.6,1113.3 1624.2,1113.6 1621.9,1113.9 1619.6,1114.2 1617.3,1114.5 1614.9,1114.8 1612.6,1115.1 1610.3,1115.4 1608.0,1115.7 1605.6,1116.0 1603.3,1116.3 1601.0,1116.6 1598.7,1116.9 1596.3,1117.2 1594.0,1117.5 1591.7,1117.8 1589.4,1118.1 1587.0,1118.4 1584.7,1118.7 1582.4,1119.1 1580.1,1119.4 1577.7,1119.7 1575.4,1120.0 1573.1,1120.3 1570.8,1120.6 1568.5,1120.9 1566.1,1121.2 1563.8,1121.5 1561.5,1121.9 1559.2,1122.2 1556.8,1122.5 1554.5,1122.8 1552.2,1123.1 1549.9,1123.4 1547.5,1123.8 1545.2,1124.1 1542.9,1124.4 1540.6,1124.7 1538.3,1125.0 1535.9,1125.3 1533.6,1125.7 1531.3,1126.0 1529.0,1126.3 1526.7,1126.6 1524.3,1126.9 1522.0,1127.3 1519.7,1127.6 1517.4,1127.9 1515.0,1128.2 1512.7,1128.6 1510.4,1128.9 1508.1,1129.2 1505.8,1129.5 1503.4,1129.8 1501.1,1130.2 1498.8,1130.5 1496.5,1130.8 1494.2,1131.2 1491.8,1131.5 1489.5,1131.8 1487.2,1132.1 1484.9,1132.5 1482.6,1132.8 1480.2,1133.1 1477.9,1133.5 1475.6,1133.8 1473.3,1134.1 1471.0,1134.5 1468.6,1134.8 1466.3,1135.1 1464.0,1135.5 1461.7,1135.8 1459.4,1136.1 1457.0,1136.5 1454.7,1136.8 1452.4,1137.1 1450.1,1137.5 1447.8,1137.8 1445.5,1138.1 1443.1,1138.5 1440.8,1138.8 1438.5,1139.2 1436.2,1139.5 1433.9,1139.8 1431.5,1140.2 1429.2,1140.5 1426.9,1140.9 1424.6,1141.2 1422.3,1141.5 1420.0,1141.9 1417.6,1142.2 1415.3,1142.6 1413.0,1142.9 1410.7,1143.3 1408.4,1143.6 1406.1,1143.9 1403.7,1144.3 1401.4,1144.6 1399.1,1145.0 1396.8,1145.3 1394.5,1145.7 1392.2,1146.0 1389.8,1146.4 1387.5,1146.7 1385.2,1147.1 1382.9,1147.4 1380.6,1147.8 1378.3,1148.1 1375.9,1148.5 1373.6,1148.8 1371.3,1149.2 1369.0,1149.5 1366.7,1149.9 1364.4,1150.2 1362.0,1150.6 1359.7,1151.0 1357.4,1151.3 1355.1,1151.7 1352.8,1152.0 1350.5,1152.4 1348.2,1152.7 1345.8,1153.1 1343.5,1153.5 1341.2,1153.8 1338.9,1154.2 1336.6,1154.5 1334.3,1154.9 1331.9,1155.3 1329.6,1155.6 1327.3,1156.0 1325.0,1156.3 1322.7,1156.7 1320.4,1157.1 1318.1,1157.4 1315.7,1157.8 1313.4,1158.2 1311.1,1158.5 1308.8,1158.9 1306.5,1159.2 1304.2,1159.6 1301.9,1160.0 1299.5,1160.3 1297.2,1160.7 1294.9,1161.1 1292.6,1161.5 1290.3,1161.8 1288.0,1162.2 1285.7,1162.6 1283.4,1162.9 1281.0,1163.3 1278.7,1163.7 1276.4,1164.1 1274.1,1164.4 1271.8,1164.8 1269.5,1165.2 1267.2,1165.5 1264.8,1165.9 1262.5,1166.3 1260.2,1166.7 1257.9,1167.0 1255.6,1167.4 1253.3,1167.8 1251.0,1168.2 1248.7,1168.6 1246.3,1168.9 1244.0,1169.3 1241.7,1169.7 1239.4,1170.1 1237.1,1170.4 1234.8,1170.8 1232.5,1171.2 1230.2,1171.6 1227.8,1172.0 1225.5,1172.4 1223.2,1172.7 1220.9,1173.1 1218.6,1173.5 1216.3,1173.9 1214.0,1174.3 1211.7,1174.7 1209.4,1175.1 1207.0,1175.4 1204.7,1175.8 1202.4,1176.2 1200.1,1176.6 1197.8,1177.0 1195.5,1177.4 1193.2,1177.8 1190.9,1178.2 1188.6,1178.5 1186.2,1178.9 1183.9,1179.3 1181.6,1179.7 1179.3,1180.1 1177.0,1180.5 1174.7,1180.9 1172.4,1181.3 1170.1,1181.7 1167.8,1182.1 1165.4,1182.5 1163.1,1182.9 1160.8,1183.3 1158.5,1183.7 1156.2,1184.1 1153.9,1184.5 1151.6,1184.9 1149.3,1185.3 1147.0,1185.7 1144.6,1186.1 1142.3,1186.5 1140.0,1186.9 1137.7,1187.3 1135.4,1187.7 1133.1,1188.1 1130.8,1188.5 1128.5,1188.9 1126.2,1189.3 1123.9,1189.7 1121.5,1190.1 1119.2,1190.5 1116.9,1190.9 1114.6,1191.3 1112.3,1191.7 1110.0,1192.1 1107.7,1192.5 1105.4,1192.9 1103.1,1193.3 1100.8,1193.7 1098.4,1194.1 1096.1,1194.6 1093.8,1195.0 1091.5,1195.4 1089.2,1195.8 1086.9,1196.2 1084.6,1196.6 1082.3,1197.0 1080.0,1197.4 1077.7,1197.8 1075.3,1198.3 1073.0,1198.7 1070.7,1199.1 1068.4,1199.5 1066.1,1199.9 1063.8,1200.3 1061.5,1200.8 1059.2,1201.2 1056.9,1201.6 1054.6,1202.0 1052.3,1202.4 1049.9,1202.8 1047.6,1203.3 1045.3,1203.7 1043.0,1204.1 1040.7,1204.5 1038.4,1204.9 1036.1,1205.4 1033.8,1205.8 1031.5,1206.2 1029.2,1206.6 1026.9,1207.1 1024.5,1207.5 1022.2,1207.9 1019.9,1208.3 1017.6,1208.8 1015.3,1209.2 1013.0,1209.6 1010.7,1210.0 1008.4,1210.5 1006.1,1210.9 1003.8,1211.3 1001.5,1211.8 999.2,1212.2 996.8,1212.6 994.5,1213.0 992.2,1213.5 989.9,1213.9 987.6,1214.3 985.3,1214.8 983.0,1215.2 980.7,1215.6 978.4,1216.1 976.1,1216.5 973.8,1216.9 971.5,1217.4 969.1,1217.8 966.8,1218.2 964.5,1218.7 962.2,1219.1 959.9,1219.6 957.6,1220.0 955.3,1220.4 953.0,1220.9 950.7,1221.3 948.4,1221.8 946.1,1222.2 943.8,1222.6 941.4,1223.1 939.1,1223.5 936.8,1224.0 934.5,1224.4 932.2,1224.8 929.9,1225.3 927.6,1225.7 925.3,1226.2 923.0,1226.6 920.7,1227.1 918.4,1227.5 916.1,1228.0 913.7,1228.4 911.4,1228.9 909.1,1229.3 906.8,1229.8 904.5,1230.2 902.2,1230.7 899.9,1231.1 897.6,1231.6 895.3,1232.0 893.0,1232.5 890.7,1232.9 888.4,1233.4 886.0,1233.8 883.7,1234.3 881.4,1234.7 879.1,1235.2 876.8,1235.6 874.5,1236.1 872.2,1236.6 869.9,1237.0 867.6,1237.5 865.3,1237.9 863.0,1238.4 860.7,1238.9 858.4,1239.3 856.1,1239.8 853.7,1240.2 851.4,1240.7 849.1,1241.2 846.8,1241.7 844.5,1242.1 842.2,1242.6 839.9,1243.1 837.6,1243.5 835.3,1244.0 833.0,1244.5 830.7,1245.0 828.4,1245.4 826.1,1245.9 823.8,1246.4 821.5,1246.9 819.2,1247.4 816.9,1247.8 814.6,1248.3 812.3,1248.8 810.0,1249.3 807.7,1249.8 805.4,1250.3 803.1,1250.8 800.8,1251.3 798.5,1251.8 796.2,1252.3 793.9,1252.8 791.6,1253.3 789.3,1253.8 787.0,1254.3 784.7,1254.8 782.4,1255.3 780.1,1255.8 777.8,1256.3 775.6,1256.8 773.3,1257.3 771.0,1257.9 768.7,1258.4 766.4,1258.9 764.1,1259.4 761.8,1259.9 759.5,1260.5 757.2,1261.0 754.9,1261.5 752.7,1262.1 750.4,1262.6 748.1,1263.1 745.8,1263.7 743.5,1264.2 741.2,1264.8 739.0,1265.3 736.7,1265.9 734.4,1266.4 732.1,1267.0 729.8,1267.5 727.6,1268.1 725.3,1268.6 723.0,1269.2 720.7,1269.8 718.5,1270.3 716.2,1270.9 713.9,1271.5 711.6,1272.1 709.4,1272.6 707.1,1273.2 704.8,1273.8 702.6,1274.4 700.3,1275.0 698.0,1275.6 695.8,1276.2 693.5,1276.8 691.2,1277.4 689.0,1278.0 686.7,1278.6 684.5,1279.2 682.2,1279.8 679.9,1280.4 677.7,1281.0 675.4,1281.6 673.2,1282.2 670.9,1282.9 668.7,1283.5 666.4,1284.1 664.2,1284.8 661.9,1285.4 659.7,1286.0 657.4,1286.7 655.2,1287.3 652.9,1288.0 650.7,1288.6 648.4,1289.3 646.2,1290.0 644.0,1290.6 641.7,1291.3 639.5,1292.0 637.2,1292.6 635.0,1293.3 632.8,1294.0 630.5,1294.7 628.3,1295.4 626.1,1296.1 623.8,1296.7 621.6,1297.4 619.4,1298.1 617.2,1298.9 614.9,1299.6 612.7,1300.3 610.5,1301.0 608.3,1301.7 606.1,1302.4 603.8,1303.2 601.6,1303.9 599.4,1304.6 597.2,1305.4 595.0,1306.1 592.8,1306.9 590.6,1307.6 588.4,1308.4 586.2,1309.1 583.9,1309.9 581.7,1310.6 579.5,1311.4 577.3,1312.2 575.1,1313.0 573.0,1313.7 570.8,1314.5 568.6,1315.3 566.4,1316.1 564.2,1316.9 562.0,1317.7 559.8,1318.5 557.6,1319.3 555.4,1320.2 553.3,1321.0 551.1,1321.8 548.9,1322.6 546.7,1323.5 544.5,1324.3 542.4,1325.1 540.2,1326.0 538.0,1326.8 535.9,1327.7 533.7,1328.6 531.5,1329.4 529.4,1330.3 527.2,1331.2 525.0,1332.0 522.9,1332.9 520.7,1333.8 518.6,1334.7 516.4,1335.6 514.3,1336.5 512.1,1337.4 510.0,1338.3 507.8,1339.3 505.7,1340.2 503.5,1341.1 501.4,1342.0 499.2,1343.0 497.1,1343.9 495.0,1344.9 492.8,1345.8 490.7,1346.8 488.6,1347.7 486.5,1348.7 484.3,1349.7 482.2,1350.6 480.1,1351.6 478.0,1352.6 475.9,1353.6 473.7,1354.6 471.6,1355.6 469.5,1356.6 467.4,1357.6 465.3,1358.7 463.2,1359.7 461.1,1360.7 459.0,1361.7 456.9,1362.8 454.8,1363.8 452.7,1364.9 450.6,1365.9 448.5,1367.0 446.4,1368.1 444.4,1369.2 442.3,1370.2 440.2,1371.3 438.1,1372.4 436.0,1373.5 434.0,1374.6 431.9,1375.7 429.8,1376.8 427.7,1378.0 425.7,1379.1 423.6,1380.2 421.6,1381.4 419.5,1382.5 417.4,1383.7 415.4,1384.8 413.3,1386.0 411.3,1387.1 409.2,1388.3 407.2,1389.5 405.2,1390.7 403.1,1391.9 401.1,1393.1 399.0,1394.3 397.0,1395.5 395.0,1396.7 393.0,1397.9" fill="none" stroke="#000" stroke-width="7.5" stroke-dasharray="14.921 22.879" stroke-dashoffset="13.921" stroke-linejoin="round" stroke-linecap="round"/>
<polyline clip-path="url(#clipb)" points="1760.2,979.1 1757.8,979.5 1755.4,979.8 1753.0,980.2 1750.5,980.6 1748.1,980.9 1745.7,981.3 1743.3,981.7 1740.9,982.0 1738.5,982.4 1736.1,982.8 1733.6,983.1 1731.2,983.5 1728.8,983.9 1726.4,984.3 1724.0,984.6 1721.6,985.0 1719.2,985.4 1716.8,985.8 1714.3,986.1 1711.9,986.5 1709.5,986.9 1707.1,987.3 1704.7,987.7 1702.3,988.0 1699.9,988.4 1697.5,988.8 1695.0,989.2 1692.6,989.6 1690.2,989.9 1687.8,990.3 1685.4,990.7 1683.0,991.1 1680.6,991.5 1678.2,991.9 1675.7,992.2 1673.3,992.6 1670.9,993.0 1668.5,993.4 1666.1,993.8 1663.7,994.2 1661.3,994.6 1658.9,995.0 1656.5,995.3 1654.0,995.7 1651.6,996.1 1649.2,996.5 1646.8,996.9 1644.4,997.3 1642.0,997.7 1639.6,998.1 1637.2,998.5 1634.8,998.9 1632.3,999.3 1629.9,999.7 1627.5,1000.1 1625.1,1000.5 1622.7,1000.9 1620.3,1001.3 1617.9,1001.7 1615.5,1002.1 1613.1,1002.5 1610.7,1002.9 1608.3,1003.3 1605.8,1003.7 1603.4,1004.1 1601.0,1004.5 1598.6,1004.9 1596.2,1005.3 1593.8,1005.7 1591.4,1006.1 1589.0,1006.5 1586.6,1006.9 1584.2,1007.3 1581.8,1007.7 1579.4,1008.1 1576.9,1008.5 1574.5,1009.0 1572.1,1009.4 1569.7,1009.8 1567.3,1010.2 1564.9,1010.6 1562.5,1011.0 1560.1,1011.4 1557.7,1011.9 1555.3,1012.3 1552.9,1012.7 1550.5,1013.1 1548.1,1013.5 1545.7,1013.9 1543.3,1014.4 1540.8,1014.8 1538.4,1015.2 1536.0,1015.6 1533.6,1016.0 1531.2,1016.5 1528.8,1016.9 1526.4,1017.3 1524.0,1017.7 1521.6,1018.2 1519.2,1018.6 1516.8,1019.0 1514.4,1019.4 1512.0,1019.9 1509.6,1020.3 1507.2,1020.7 1504.8,1021.2 1502.4,1021.6 1500.0,1022.0 1497.6,1022.5 1495.2,1022.9 1492.8,1023.3 1490.3,1023.8 1487.9,1024.2 1485.5,1024.6 1483.1,1025.1 1480.7,1025.5 1478.3,1025.9 1475.9,1026.4 1473.5,1026.8 1471.1,1027.2 1468.7,1027.7 1466.3,1028.1 1463.9,1028.6 1461.5,1029.0 1459.1,1029.5 1456.7,1029.9 1454.3,1030.3 1451.9,1030.8 1449.5,1031.2 1447.1,1031.7 1444.7,1032.1 1442.3,1032.6 1439.9,1033.0 1437.5,1033.5 1435.1,1033.9 1432.7,1034.4 1430.3,1034.8 1427.9,1035.3 1425.5,1035.7 1423.1,1036.2 1420.7,1036.6 1418.3,1037.1 1415.9,1037.6 1413.5,1038.0 1411.1,1038.5 1408.7,1038.9 1406.3,1039.4 1403.9,1039.8 1401.5,1040.3 1399.1,1040.8 1396.7,1041.2 1394.3,1041.7 1391.9,1042.2 1389.5,1042.6 1387.1,1043.1 1384.7,1043.6 1382.3,1044.0 1379.9,1044.5 1377.5,1045.0 1375.1,1045.4 1372.7,1045.9 1370.4,1046.4 1368.0,1046.8 1365.6,1047.3 1363.2,1047.8 1360.8,1048.2 1358.4,1048.7 1356.0,1049.2 1353.6,1049.7 1351.2,1050.1 1348.8,1050.6 1346.4,1051.1 1344.0,1051.6 1341.6,1052.1 1339.2,1052.5 1336.8,1053.0 1334.4,1053.5 1332.0,1054.0 1329.6,1054.5 1327.2,1055.0 1324.9,1055.4 1322.5,1055.9 1320.1,1056.4 1317.7,1056.9 1315.3,1057.4 1312.9,1057.9 1310.5,1058.4 1308.1,1058.9 1305.7,1059.3 1303.3,1059.8 1300.9,1060.3 1298.5,1060.8 1296.2,1061.3 1293.8,1061.8 1291.4,1062.3 1289.0,1062.8 1286.6,1063.3 1284.2,1063.8 1281.8,1064.3 1279.4,1064.8 1277.0,1065.3 1274.6,1065.8 1272.3,1066.3 1269.9,1066.8 1267.5,1067.3 1265.1,1067.8 1262.7,1068.3 1260.3,1068.8 1257.9,1069.3 1255.5,1069.8 1253.1,1070.4 1250.8,1070.9 1248.4,1071.4 1246.0,1071.9 1243.6,1072.4 1241.2,1072.9 1238.8,1073.4 1236.4,1073.9 1234.0,1074.5 1231.7,1075.0 1229.3,1075.5 1226.9,1076.0 1224.5,1076.5 1222.1,1077.0 1219.7,1077.6 1217.4,1078.1 1215.0,1078.6 1212.6,1079.1 1210.2,1079.7 1207.8,1080.2 1205.4,1080.7 1203.0,1081.2 1200.7,1081.8 1198.3,1082.3 1195.9,1082.8 1193.5,1083.3 1191.1,1083.9 1188.7,1084.4 1186.4,1084.9 1184.0,1085.5 1181.6,1086.0 1179.2,1086.5 1176.8,1087.1 1174.5,1087.6 1172.1,1088.2 1169.7,1088.7 1167.3,1089.2 1164.9,1089.8 1162.6,1090.3 1160.2,1090.9 1157.8,1091.4 1155.4,1091.9 1153.0,1092.5 1150.7,1093.0 1148.3,1093.6 1145.9,1094.1 1143.5,1094.7 1141.1,1095.2 1138.8,1095.8 1136.4,1096.3 1134.0,1096.9 1131.6,1097.4 1129.2,1098.0 1126.9,1098.5 1124.5,1099.1 1122.1,1099.7 1119.7,1100.2 1117.4,1100.8 1115.0,1101.3 1112.6,1101.9 1110.2,1102.5 1107.9,1103.0 1105.5,1103.6 1103.1,1104.1 1100.7,1104.7 1098.4,1105.3 1096.0,1105.8 1093.6,1106.4 1091.2,1107.0 1088.9,1107.5 1086.5,1108.1 1084.1,1108.7 1081.7,1109.3 1079.4,1109.8 1077.0,1110.4 1074.6,1111.0 1072.3,1111.6 1069.9,1112.1 1067.5,1112.7 1065.1,1113.3 1062.8,1113.9 1060.4,1114.4 1058.0,1115.0 1055.7,1115.6 1053.3,1116.2 1050.9,1116.8 1048.6,1117.4 1046.2,1117.9 1043.8,1118.5 1041.4,1119.1 1039.1,1119.7 1036.7,1120.3 1034.3,1120.9 1032.0,1121.5 1029.6,1122.1 1027.2,1122.7 1024.9,1123.3 1022.5,1123.9 1020.1,1124.5 1017.8,1125.1 1015.4,1125.7 1013.0,1126.3 1010.7,1126.9 1008.3,1127.5 1005.9,1128.1 1003.6,1128.7 1001.2,1129.3 998.8,1129.9 996.5,1130.5 994.1,1131.1 991.8,1131.7 989.4,1132.3 987.0,1132.9 984.7,1133.5 982.3,1134.1 979.9,1134.7 977.6,1135.4 975.2,1136.0 972.9,1136.6 970.5,1137.2 968.1,1137.8 965.8,1138.4 963.4,1139.1 961.0,1139.7 958.7,1140.3 956.3,1140.9 954.0,1141.6 951.6,1142.2 949.2,1142.8 946.9,1143.4 944.5,1144.1 942.2,1144.7 939.8,1145.3 937.5,1146.0 935.1,1146.6 932.7,1147.2 930.4,1147.9 928.0,1148.5 925.7,1149.1 923.3,1149.8 921.0,1150.4 918.6,1151.0 916.2,1151.7 913.9,1152.3 911.5,1153.0 909.2,1153.6 906.8,1154.3 904.5,1154.9 902.1,1155.5 899.8,1156.2 897.4,1156.8 895.1,1157.5 892.7,1158.1 890.4,1158.8 888.0,1159.4 885.6,1160.1 883.3,1160.8 880.9,1161.4 878.6,1162.1 876.2,1162.7 873.9,1163.4 871.5,1164.0 869.2,1164.7 866.8,1165.4 864.5,1166.0 862.1,1166.7 859.8,1167.4 857.4,1168.0 855.1,1168.7 852.8,1169.4 850.4,1170.0 848.1,1170.7 845.7,1171.4 843.4,1172.0 841.0,1172.7 838.7,1173.4 836.3,1174.1 834.0,1174.7 831.6,1175.4 829.3,1176.1 826.9,1176.8 824.6,1177.5 822.3,1178.2 819.9,1178.8 817.6,1179.5 815.2,1180.2 812.9,1180.9 810.5,1181.6 808.2,1182.3 805.9,1183.0 803.5,1183.7 801.2,1184.3 798.8,1185.0 796.5,1185.7 794.1,1186.4 791.8,1187.1 789.5,1187.8 787.1,1188.5 784.8,1189.2 782.5,1189.9 780.1,1190.6 777.8,1191.4 775.4,1192.1 773.1,1192.8 770.8,1193.5 768.4,1194.2 766.1,1194.9 763.8,1195.6 761.4,1196.4 759.1,1197.1 756.8,1197.8 754.4,1198.5 752.1,1199.3 749.8,1200.0 747.4,1200.7 745.1,1201.5 742.8,1202.2 740.5,1202.9 738.1,1203.7 735.8,1204.4 733.5,1205.2 731.2,1205.9 728.8,1206.7 726.5,1207.4 724.2,1208.2 721.9,1208.9 719.5,1209.7 717.2,1210.4 714.9,1211.2 712.6,1212.0 710.3,1212.7 708.0,1213.5 705.6,1214.3 703.3,1215.1 701.0,1215.8 698.7,1216.6 696.4,1217.4 694.1,1218.2 691.8,1219.0 689.5,1219.8 687.1,1220.6 684.8,1221.4 682.5,1222.2 680.2,1223.0 677.9,1223.8 675.6,1224.6 673.3,1225.4 671.0,1226.2 668.7,1227.0 666.4,1227.9 664.1,1228.7 661.8,1229.5 659.5,1230.3 657.2,1231.2 654.9,1232.0 652.6,1232.8 650.3,1233.7 648.0,1234.5 645.8,1235.4 643.5,1236.2 641.2,1237.1 638.9,1238.0 636.6,1238.8 634.3,1239.7 632.0,1240.6 629.8,1241.4 627.5,1242.3 625.2,1243.2 622.9,1244.1 620.6,1245.0 618.4,1245.9 616.1,1246.8 613.8,1247.7 611.5,1248.6 609.3,1249.5 607.0,1250.4 604.7,1251.3 602.5,1252.2 600.2,1253.2 597.9,1254.1 595.7,1255.0 593.4,1256.0 591.2,1256.9 588.9,1257.8 586.7,1258.8 584.4,1259.7 582.2,1260.7 579.9,1261.7 577.7,1262.6 575.4,1263.6 573.2,1264.6 570.9,1265.6 568.7,1266.6 566.5,1267.6 564.2,1268.6 562.0,1269.6 559.8,1270.6 557.6,1271.6 555.4,1272.6 553.1,1273.7 550.9,1274.7 548.7,1275.7 546.5,1276.8 544.3,1277.8 542.1,1278.9 539.9,1280.0 537.7,1281.0 535.6,1282.1 533.4,1283.2 531.2,1284.3 529.0,1285.4 526.9,1286.5 524.7,1287.6 522.5,1288.8 520.4,1289.9 518.2,1291.0 516.1,1292.2 514.0,1293.3 511.8,1294.5 509.7,1295.6 507.6,1296.8 505.4,1298.0 503.3,1299.2 501.2,1300.4 499.1,1301.6 497.0,1302.8 494.9,1304.0 492.8,1305.3 490.7,1306.5 488.7,1307.8 486.6,1309.0 484.5,1310.3 482.5,1311.6 480.4,1312.9 478.4,1314.1 476.3,1315.5 474.3,1316.8 472.3,1318.1 470.3,1319.4 468.2,1320.8 466.2,1322.1 464.2,1323.5 462.2,1324.8 460.3,1326.2 458.3,1327.6 456.3,1329.0 454.3,1330.4 452.4,1331.8 450.4,1333.3 448.5,1334.7 446.6,1336.2 444.6,1337.6 442.7,1339.1 440.8,1340.6 438.9,1342.1 437.0,1343.6 435.1,1345.1 433.2,1346.6 431.4,1348.2 429.5,1349.7 427.6,1351.3 425.8,1352.8 424.0,1354.4 422.1,1356.0 420.3,1357.6 418.5,1359.3 416.7,1360.9 414.9,1362.5 413.1,1364.2 411.3,1365.9 409.6,1367.5 407.8,1369.2 406.1,1370.9 404.3,1372.7 402.6,1374.4 400.9,1376.1 399.2,1377.9 397.5,1379.6 395.8,1381.4 394.1,1383.2 392.4,1385.0 390.8,1386.9 389.1,1388.7 387.5,1390.5 385.9,1392.4 384.3,1394.3 382.7,1396.2 381.1,1398.1 379.5,1400.0" fill="none" stroke="#008000" stroke-width="7.5" stroke-dasharray="15.042 23.064" stroke-dashoffset="1.042" stroke-linejoin="round" stroke-linecap="round"/>
<polyline clip-path="url(#clipb)" points="1760.2,923.7 1757.7,924.1 1755.3,924.5 1752.8,924.8 1750.4,925.2 1747.9,925.6 1745.4,926.0 1743.0,926.4 1740.5,926.8 1738.0,927.2 1735.6,927.6 1733.1,928.0 1730.7,928.4 1728.2,928.8 1725.8,929.1 1723.3,929.5 1720.8,929.9 1718.4,930.4 1715.9,930.8 1713.5,931.2 1711.0,931.6 1708.6,932.0 1706.1,932.4 1703.6,932.8 1701.2,933.2 1698.7,933.6 1696.3,934.0 1693.8,934.4 1691.4,934.9 1688.9,935.3 1686.5,935.7 1684.0,936.1 1681.6,936.5 1679.1,937.0 1676.7,937.4 1674.2,937.8 1671.8,938.2 1669.3,938.7 1666.9,939.1 1664.4,939.5 1662.0,940.0 1659.5,940.4 1657.1,940.8 1654.6,941.2 1652.2,941.7 1649.7,942.1 1647.3,942.6 1644.9,943.0 1642.4,943.4 1640.0,943.9 1637.5,944.3 1635.1,944.8 1632.6,945.2 1630.2,945.7 1627.7,946.1 1625.3,946.6 1622.9,947.0 1620.4,947.5 1618.0,947.9 1615.5,948.4 1613.1,948.8 1610.6,949.3 1608.2,949.7 1605.8,950.2 1603.3,950.6 1600.9,951.1 1598.4,951.5 1596.0,952.0 1593.6,952.5 1591.1,952.9 1588.7,953.4 1586.2,953.9 1583.8,954.3 1581.4,954.8 1578.9,955.3 1576.5,955.7 1574.0,956.2 1571.6,956.7 1569.2,957.1 1566.7,957.6 1564.3,958.1 1561.9,958.6 1559.4,959.0 1557.0,959.5 1554.5,960.0 1552.1,960.5 1549.7,960.9 1547.2,961.4 1544.8,961.9 1542.4,962.4 1539.9,962.9 1537.5,963.4 1535.1,963.8 1532.6,964.3 1530.2,964.8 1527.8,965.3 1525.3,965.8 1522.9,966.3 1520.5,966.8 1518.0,967.3 1515.6,967.7 1513.2,968.2 1510.7,968.7 1508.3,969.2 1505.9,969.7 1503.4,970.2 1501.0,970.7 1498.6,971.2 1496.1,971.7 1493.7,972.2 1491.3,972.7 1488.8,973.2 1486.4,973.7 1484.0,974.2 1481.5,974.7 1479.1,975.2 1476.7,975.7 1474.3,976.2 1471.8,976.7 1469.4,977.2 1467.0,977.7 1464.5,978.2 1462.1,978.7 1459.7,979.2 1457.2,979.8 1454.8,980.3 1452.4,980.8 1450.0,981.3 1447.5,981.8 1445.1,982.3 1442.7,982.8 1440.2,983.3 1437.8,983.8 1435.4,984.4 1432.9,984.9 1430.5,985.4 1428.1,985.9 1425.7,986.4 1423.2,986.9 1420.8,987.5 1418.4,988.0 1415.9,988.5 1413.5,989.0 1411.1,989.5 1408.7,990.1 1406.2,990.6 1403.8,991.1 1401.4,991.6 1398.9,992.1 1396.5,992.7 1394.1,993.2 1391.7,993.7 1389.2,994.2 1386.8,994.8 1384.4,995.3 1382.0,995.8 1379.5,996.3 1377.1,996.9 1374.7,997.4 1372.2,997.9 1369.8,998.5 1367.4,999.0 1365.0,999.5 1362.5,1000.0 1360.1,1000.6 1357.7,1001.1 1355.2,1001.6 1352.8,1002.2 1350.4,1002.7 1348.0,1003.2 1345.5,1003.8 1343.1,1004.3 1340.7,1004.8 1338.3,1005.4 1335.8,1005.9 1333.4,1006.4 1331.0,1007.0 1328.5,1007.5 1326.1,1008.0 1323.7,1008.6 1321.3,1009.1 1318.8,1009.6 1316.4,1010.2 1314.0,1010.7 1311.5,1011.3 1309.1,1011.8 1306.7,1012.3 1304.3,1012.9 1301.8,1013.4 1299.4,1014.0 1297.0,1014.5 1294.5,1015.0 1292.1,1015.6 1289.7,1016.1 1287.3,1016.7 1284.8,1017.2 1282.4,1017.8 1280.0,1018.3 1277.6,1018.8 1275.1,1019.4 1272.7,1019.9 1270.3,1020.5 1267.8,1021.0 1265.4,1021.6 1263.0,1022.1 1260.6,1022.7 1258.1,1023.2 1255.7,1023.8 1253.3,1024.3 1250.8,1024.9 1248.4,1025.4 1246.0,1026.0 1243.6,1026.5 1241.1,1027.1 1238.7,1027.6 1236.3,1028.2 1233.9,1028.7 1231.4,1029.3 1229.0,1029.8 1226.6,1030.4 1224.2,1030.9 1221.7,1031.5 1219.3,1032.0 1216.9,1032.6 1214.4,1033.1 1212.0,1033.7 1209.6,1034.3 1207.2,1034.8 1204.7,1035.4 1202.3,1035.9 1199.9,1036.5 1197.5,1037.1 1195.0,1037.6 1192.6,1038.2 1190.2,1038.7 1187.8,1039.3 1185.3,1039.9 1182.9,1040.4 1180.5,1041.0 1178.1,1041.6 1175.6,1042.1 1173.2,1042.7 1170.8,1043.3 1168.4,1043.8 1166.0,1044.4 1163.5,1045.0 1161.1,1045.5 1158.7,1046.1 1156.3,1046.7 1153.8,1047.2 1151.4,1047.8 1149.0,1048.4 1146.6,1049.0 1144.2,1049.5 1141.7,1050.1 1139.3,1050.7 1136.9,1051.3 1134.5,1051.8 1132.0,1052.4 1129.6,1053.0 1127.2,1053.6 1124.8,1054.2 1122.4,1054.7 1119.9,1055.3 1117.5,1055.9 1115.1,1056.5 1112.7,1057.1 1110.3,1057.6 1107.8,1058.2 1105.4,1058.8 1103.0,1059.4 1100.6,1060.0 1098.2,1060.6 1095.8,1061.1 1093.3,1061.7 1090.9,1062.3 1088.5,1062.9 1086.1,1063.5 1083.7,1064.1 1081.3,1064.7 1078.8,1065.3 1076.4,1065.9 1074.0,1066.5 1071.6,1067.1 1069.2,1067.7 1066.8,1068.2 1064.4,1068.8 1061.9,1069.4 1059.5,1070.0 1057.1,1070.6 1054.7,1071.2 1052.3,1071.8 1049.9,1072.4 1047.5,1073.0 1045.0,1073.6 1042.6,1074.2 1040.2,1074.8 1037.8,1075.5 1035.4,1076.1 1033.0,1076.7 1030.6,1077.3 1028.2,1077.9 1025.8,1078.5 1023.4,1079.1 1020.9,1079.7 1018.5,1080.3 1016.1,1080.9 1013.7,1081.6 1011.3,1082.2 1008.9,1082.8 1006.5,1083.4 1004.1,1084.0 1001.7,1084.6 999.3,1085.3 996.9,1085.9 994.5,1086.5 992.1,1087.2 989.7,1087.8 987.3,1088.4 984.9,1089.1 982.5,1089.7 980.1,1090.3 977.7,1091.0 975.3,1091.6 972.9,1092.3 970.5,1092.9 968.1,1093.6 965.7,1094.2 963.3,1094.9 960.9,1095.6 958.5,1096.2 956.2,1096.9 953.8,1097.6 951.4,1098.2 949.0,1098.9 946.6,1099.6 944.2,1100.3 941.9,1101.0 939.5,1101.6 937.1,1102.3 934.7,1103.0 932.3,1103.7 930.0,1104.4 927.6,1105.1 925.2,1105.9 922.9,1106.6 920.5,1107.3 918.1,1108.0 915.7,1108.7 913.4,1109.5 911.0,1110.2 908.7,1110.9 906.3,1111.7 903.9,1112.4 901.6,1113.1 899.2,1113.9 896.9,1114.6 894.5,1115.4 892.1,1116.1 889.8,1116.9 887.4,1117.7 885.1,1118.4 882.7,1119.2 880.4,1120.0 878.0,1120.7 875.7,1121.5 873.3,1122.3 871.0,1123.1 868.6,1123.9 866.3,1124.7 863.9,1125.4 861.6,1126.2 859.3,1127.0 856.9,1127.8 854.6,1128.6 852.2,1129.4 849.9,1130.3 847.6,1131.1 845.2,1131.9 842.9,1132.7 840.5,1133.5 838.2,1134.3 835.9,1135.2 833.5,1136.0 831.2,1136.8 828.9,1137.6 826.5,1138.5 824.2,1139.3 821.9,1140.2 819.6,1141.0 817.2,1141.8 814.9,1142.7 812.6,1143.5 810.2,1144.4 807.9,1145.2 805.6,1146.1 803.3,1146.9 800.9,1147.8 798.6,1148.7 796.3,1149.5 794.0,1150.4 791.6,1151.3 789.3,1152.1 787.0,1153.0 784.7,1153.9 782.4,1154.8 780.0,1155.6 777.7,1156.5 775.4,1157.4 773.1,1158.3 770.8,1159.2 768.5,1160.1 766.1,1161.0 763.8,1161.9 761.5,1162.8 759.2,1163.7 756.9,1164.6 754.6,1165.5 752.2,1166.4 749.9,1167.3 747.6,1168.2 745.3,1169.1 743.0,1170.0 740.7,1170.9 738.4,1171.8 736.0,1172.7 733.7,1173.6 731.4,1174.6 729.1,1175.5 726.8,1176.4 724.5,1177.3 722.2,1178.2 719.9,1179.2 717.5,1180.1 715.2,1181.0 712.9,1182.0 710.6,1182.9 708.3,1183.8 706.0,1184.8 703.7,1185.7 701.4,1186.6 699.1,1187.6 696.8,1188.5 694.5,1189.5 692.1,1190.4 689.8,1191.4 687.5,1192.3 685.2,1193.3 682.9,1194.2 680.6,1195.2 678.3,1196.2 676.0,1197.1 673.7,1198.1 671.4,1199.1 669.1,1200.0 666.8,1201.0 664.5,1202.0 662.2,1202.9 659.9,1203.9 657.6,1204.9 655.3,1205.9 653.1,1206.9 650.8,1207.9 648.5,1208.9 646.2,1209.9 643.9,1210.9 641.6,1211.9 639.3,1212.9 637.1,1213.9 634.8,1214.9 632.5,1215.9 630.2,1216.9 627.9,1218.0 625.7,1219.0 623.4,1220.0 621.1,1221.0 618.8,1222.1 616.6,1223.1 614.3,1224.2 612.0,1225.2 609.8,1226.3 607.5,1227.3 605.3,1228.4 603.0,1229.4 600.7,1230.5 598.5,1231.6 596.2,1232.6 594.0,1233.7 591.7,1234.8 589.5,1235.9 587.2,1237.0 585.0,1238.1 582.8,1239.1 580.5,1240.2 578.3,1241.3 576.1,1242.5 573.8,1243.6 571.6,1244.7 569.4,1245.8 567.1,1246.9 564.9,1248.1 562.7,1249.2 560.5,1250.3 558.3,1251.5 556.1,1252.6 553.9,1253.8 551.6,1254.9 549.4,1256.1 547.2,1257.2 545.0,1258.4 542.9,1259.6 540.7,1260.8 538.5,1262.0 536.3,1263.2 534.1,1264.3 531.9,1265.5 529.8,1266.8 527.6,1268.0 525.4,1269.2 523.3,1270.4 521.1,1271.6 518.9,1272.9 516.8,1274.1 514.6,1275.4 512.5,1276.6 510.4,1277.9 508.2,1279.2 506.1,1280.5 504.0,1281.7 501.9,1283.0 499.8,1284.3 497.7,1285.7 495.6,1287.0 493.5,1288.3 491.4,1289.6 489.3,1291.0 487.3,1292.3 485.2,1293.7 483.2,1295.1 481.1,1296.4 479.1,1297.8 477.0,1299.2 475.0,1300.6 473.0,1302.0 471.0,1303.4 469.0,1304.9 467.0,1306.3 465.0,1307.8 463.0,1309.2 461.0,1310.7 459.1,1312.2 457.1,1313.7 455.2,1315.2 453.2,1316.7 451.3,1318.2 449.4,1319.7 447.5,1321.3 445.6,1322.9 443.7,1324.4 441.8,1326.0 439.9,1327.6 438.1,1329.2 436.2,1330.8 434.4,1332.4 432.5,1334.1 430.7,1335.7 428.9,1337.4 427.1,1339.1 425.3,1340.7 423.5,1342.4 421.8,1344.2 420.0,1345.9 418.3,1347.6 416.5,1349.4 414.8,1351.1 413.1,1352.9 411.4,1354.7 409.7,1356.5 408.0,1358.3 406.4,1360.2 404.7,1362.0 403.1,1363.9 401.5,1365.8 399.9,1367.6 398.3,1369.6 396.7,1371.5 395.1,1373.4 393.6,1375.4 392.0,1377.3 390.5,1379.3 389.0,1381.3 387.5,1383.3 386.0,1385.3 384.5,1387.4 383.0,1389.4 381.6,1391.5 380.2,1393.6 378.8,1395.7 377.4,1397.8 376.0,1400.0" fill="none" stroke="#FF0000" stroke-width="7.5" stroke-dasharray="15.002 23.003" stroke-dashoffset="0.002" stroke-linejoin="round" stroke-linecap="round"/>
<polyline clip-path="url(#clipb)" points="421.2,1158.5 423.3,1159.4 425.4,1160.3 427.5,1161.2 429.6,1162.0 431.7,1162.9 433.8,1163.8 435.9,1164.6 438.0,1165.5 440.1,1166.3 442.2,1167.2 444.3,1168.0 446.4,1168.9 448.5,1169.7 450.6,1170.5 452.7,1171.4 454.8,1172.2 457.0,1173.0 459.1,1173.8 461.2,1174.6 463.3,1175.4 465.4,1176.2 467.5,1177.0 469.7,1177.8 471.8,1178.6 473.9,1179.4 476.0,1180.2 478.2,1180.9 480.3,1181.7 482.4,1182.5 484.5,1183.3 486.7,1184.0 488.8,1184.8 490.9,1185.5 493.1,1186.3 495.2,1187.1 497.3,1187.8 499.5,1188.5 501.6,1189.3 503.8,1190.0 505.9,1190.8 508.0,1191.5 510.2,1192.2 512.3,1192.9 514.5,1193.7 516.6,1194.4 518.8,1195.1 520.9,1195.8 523.1,1196.5 525.2,1197.2 527.4,1197.9 529.5,1198.6 531.7,1199.3 533.8,1200.0 536.0,1200.7 538.1,1201.4 540.3,1202.1 542.4,1202.8 544.6,1203.5 546.8,1204.2 548.9,1204.8 551.1,1205.5 553.2,1206.2 555.4,1206.9 557.6,1207.5 559.7,1208.2 561.9,1208.9 564.1,1209.5 566.2,1210.2 568.4,1210.8 570.6,1211.5 572.7,1212.2 574.9,1212.8 577.1,1213.5 579.3,1214.1 581.4,1214.8 583.6,1215.4 585.8,1216.0 587.9,1216.7 590.1,1217.3 592.3,1218.0 594.5,1218.6 596.6,1219.2 598.8,1219.9 601.0,1220.5 603.2,1221.1 605.4,1221.7 607.5,1222.4 609.7,1223.0 611.9,1223.6 614.1,1224.2 616.3,1224.9 618.5,1225.5 620.6,1226.1 622.8,1226.7 625.0,1227.3 627.2,1227.9 629.4,1228.5 631.6,1229.1 633.8,1229.7 636.0,1230.3 638.1,1230.9 640.3,1231.5 642.5,1232.1 644.7,1232.7 646.9,1233.3 649.1,1233.9 651.3,1234.5 653.5,1235.1 655.7,1235.7 657.9,1236.2 660.1,1236.8 662.3,1237.4 664.5,1238.0 666.7,1238.6 668.9,1239.1 671.1,1239.7 673.3,1240.3 675.5,1240.8 677.7,1241.4 679.9,1242.0 682.1,1242.5 684.3,1243.1 686.5,1243.7 688.7,1244.2 690.9,1244.8 693.1,1245.3 695.3,1245.9 697.5,1246.4 699.7,1247.0 701.9,1247.5 704.1,1248.1 706.3,1248.6 708.5,1249.2 710.7,1249.7 712.9,1250.3 715.2,1250.8 717.4,1251.3 719.6,1251.9 721.8,1252.4 724.0,1252.9 726.2,1253.5 728.4,1254.0 730.6,1254.5 732.8,1255.1 735.1,1255.6 737.3,1256.1 739.5,1256.6 741.7,1257.1 743.9,1257.7 746.1,1258.2 748.4,1258.7 750.6,1259.2 752.8,1259.7 755.0,1260.2 757.2,1260.7 759.4,1261.2 761.7,1261.7 763.9,1262.2 766.1,1262.7 768.3,1263.2 770.5,1263.7 772.8,1264.2 775.0,1264.7 777.2,1265.2 779.4,1265.7 781.7,1266.2 783.9,1266.7 786.1,1267.2 788.3,1267.7 790.5,1268.2 792.8,1268.6 795.0,1269.1 797.2,1269.6 799.4,1270.1 801.7,1270.6 803.9,1271.0 806.1,1271.5 808.3,1272.0 810.6,1272.5 812.8,1272.9 815.0,1273.4 817.3,1273.9 819.5,1274.3 821.7,1274.8 823.9,1275.2 826.2,1275.7 828.4,1276.2 830.6,1276.6 832.9,1277.1 835.1,1277.5 837.3,1278.0 839.6,1278.4 841.8,1278.9 844.0,1279.3 846.3,1279.8 848.5,1280.2 850.7,1280.7 852.9,1281.1 855.2,1281.6 857.4,1282.0 859.6,1282.4 861.9,1282.9 864.1,1283.3 866.3,1283.7 868.6,1284.2 870.8,1284.6 873.1,1285.0 875.3,1285.5 877.5,1285.9 879.8,1286.3 882.0,1286.7 884.2,1287.2 886.5,1287.6 888.7,1288.0 890.9,1288.4 893.2,1288.8 895.4,1289.3 897.6,1289.7 899.9,1290.1 902.1,1290.5 904.4,1290.9 906.6,1291.3 908.8,1291.7 911.1,1292.1 913.3,1292.5 915.6,1292.9 917.8,1293.3 920.0,1293.7 922.3,1294.1 924.5,1294.5 926.8,1294.9 929.0,1295.3 931.2,1295.7 933.5,1296.1 935.7,1296.5 938.0,1296.9 940.2,1297.3 942.4,1297.7 944.7,1298.1 946.9,1298.5 949.2,1298.8 951.4,1299.2 953.7,1299.6 955.9,1300.0 958.1,1300.4 960.4,1300.7 962.6,1301.1 964.9,1301.5 967.1,1301.9 969.4,1302.2 971.6,1302.6 973.9,1303.0 976.1,1303.3 978.3,1303.7 980.6,1304.1 982.8,1304.4 985.1,1304.8 987.3,1305.2 989.6,1305.5 991.8,1305.9 994.1,1306.3 996.3,1306.6 998.6,1307.0 1000.8,1307.3 1003.1,1307.7 1005.3,1308.0 1007.5,1308.4 1009.8,1308.7 1012.0,1309.1 1014.3,1309.4 1016.5,1309.8 1018.8,1310.1 1021.0,1310.5 1023.3,1310.8 1025.5,1311.2 1027.8,1311.5 1030.0,1311.8 1032.3,1312.2 1034.5,1312.5 1036.8,1312.8 1039.0,1313.2 1041.3,1313.5 1043.5,1313.8 1045.8,1314.2 1048.0,1314.5 1050.3,1314.8 1052.5,1315.2 1054.8,1315.5 1057.0,1315.8 1059.3,1316.1 1061.6,1316.5 1063.8,1316.8 1066.1,1317.1 1068.3,1317.4 1070.6,1317.8 1072.8,1318.1 1075.1,1318.4 1077.3,1318.7 1079.6,1319.0 1081.8,1319.3 1084.1,1319.7 1086.3,1320.0 1088.6,1320.3 1090.8,1320.6 1093.1,1320.9 1095.4,1321.2 1097.6,1321.5 1099.9,1321.8 1102.1,1322.1 1104.4,1322.4 1106.6,1322.7 1108.9,1323.0 1111.1,1323.3 1113.4,1323.6 1115.7,1323.9 1117.9,1324.2 1120.2,1324.5 1122.4,1324.8 1124.7,1325.1 1126.9,1325.4 1129.2,1325.7 1131.5,1326.0 1133.7,1326.3 1136.0,1326.6 1138.2,1326.9 1140.5,1327.1 1142.7,1327.4 1145.0,1327.7 1147.3,1328.0 1149.5,1328.3 1151.8,1328.6 1154.0,1328.8 1156.3,1329.1 1158.6,1329.4 1160.8,1329.7 1163.1,1330.0 1165.3,1330.2 1167.6,1330.5 1169.9,1330.8 1172.1,1331.1 1174.4,1331.3 1176.6,1331.6 1178.9,1331.9 1181.2,1332.1 1183.4,1332.4 1185.7,1332.7 1187.9,1333.0 1190.2,1333.2 1192.5,1333.5 1194.7,1333.8 1197.0,1334.0 1199.2,1334.3 1201.5,1334.5 1203.8,1334.8 1206.0,1335.1 1208.3,1335.3 1210.5,1335.6 1212.8,1335.8 1215.1,1336.1 1217.3,1336.4 1219.6,1336.6 1221.9,1336.9 1224.1,1337.1 1226.4,1337.4 1228.7,1337.6 1230.9,1337.9 1233.2,1338.1 1235.4,1338.4 1237.7,1338.6 1240.0,1338.9 1242.2,1339.1 1244.5,1339.4 1246.8,1339.6 1249.0,1339.8 1251.3,1340.1 1253.6,1340.3 1255.8,1340.6 1258.1,1340.8 1260.3,1341.1 1262.6,1341.3 1264.9,1341.5 1267.1,1341.8 1269.4,1342.0 1271.7,1342.2 1273.9,1342.5 1276.2,1342.7 1278.5,1343.0 1280.7,1343.2 1283.0,1343.4 1285.3,1343.6 1287.5,1343.9 1289.8,1344.1 1292.1,1344.3 1294.3,1344.6 1296.6,1344.8 1298.9,1345.0 1301.1,1345.3 1303.4,1345.5 1305.7,1345.7 1307.9,1345.9 1310.2,1346.1 1312.5,1346.4 1314.7,1346.6 1317.0,1346.8 1319.3,1347.0 1321.5,1347.3 1323.8,1347.5 1326.1,1347.7 1328.3,1347.9 1330.6,1348.1 1332.9,1348.3 1335.1,1348.6 1337.4,1348.8 1339.7,1349.0 1341.9,1349.2 1344.2,1349.4 1346.5,1349.6 1348.7,1349.8 1351.0,1350.1 1353.3,1350.3 1355.5,1350.5 1357.8,1350.7 1360.1,1350.9 1362.3,1351.1 1364.6,1351.3 1366.9,1351.5 1369.2,1351.7 1371.4,1351.9 1373.7,1352.1 1376.0,1352.3 1378.2,1352.5 1380.5,1352.7 1382.8,1352.9 1385.0,1353.2 1387.3,1353.4 1389.6,1353.6 1391.8,1353.8 1394.1,1354.0 1396.4,1354.2 1398.7,1354.4 1400.9,1354.5 1403.2,1354.7 1405.5,1354.9 1407.7,1355.1 1410.0,1355.3 1412.3,1355.5 1414.5,1355.7 1416.8,1355.9 1419.1,1356.1 1421.4,1356.3 1423.6,1356.5 1425.9,1356.7 1428.2,1356.9 1430.4,1357.1 1432.7,1357.3 1435.0,1357.5 1437.2,1357.6 1439.5,1357.8 1441.8,1358.0 1444.1,1358.2 1446.3,1358.4 1448.6,1358.6 1450.9,1358.8 1453.1,1359.0 1455.4,1359.1 1457.7,1359.3 1460.0,1359.5 1462.2,1359.7 1464.5,1359.9 1466.8,1360.1 1469.0,1360.2 1471.3,1360.4 1473.6,1360.6 1475.8,1360.8 1478.1,1361.0 1480.4,1361.1 1482.7,1361.3 1484.9,1361.5 1487.2,1361.7 1489.5,1361.9 1491.7,1362.0 1494.0,1362.2 1496.3,1362.4 1498.6,1362.6 1500.8,1362.7 1503.1,1362.9 1505.4,1363.1 1507.6,1363.3 1509.9,1363.4 1512.2,1363.6 1514.5,1363.8 1516.7,1364.0 1519.0,1364.1 1521.3,1364.3 1523.5,1364.5 1525.8,1364.7 1528.1,1364.8 1530.4,1365.0 1532.6,1365.2 1534.9,1365.3 1537.2,1365.5 1539.4,1365.7 1541.7,1365.9 1544.0,1366.0 1546.3,1366.2 1548.5,1366.4 1550.8,1366.5 1553.1,1366.7 1555.3,1366.9 1557.6,1367.0 1559.9,1367.2 1562.2,1367.4 1564.4,1367.5 1566.7,1367.7 1569.0,1367.9 1571.2,1368.0 1573.5,1368.2 1575.8,1368.4 1578.1,1368.5 1580.3,1368.7 1582.6,1368.8 1584.9,1369.0 1587.1,1369.2 1589.4,1369.3 1591.7,1369.5 1594.0,1369.7 1596.2,1369.8 1598.5,1370.0 1600.8,1370.1 1603.0,1370.3 1605.3,1370.5 1607.6,1370.6 1609.9,1370.8 1612.1,1370.9 1614.4,1371.1 1616.7,1371.3 1618.9,1371.4 1621.2,1371.6 1623.5,1371.7 1625.8,1371.9 1628.0,1372.1 1630.3,1372.2 1632.6,1372.4 1634.8,1372.5 1637.1,1372.7 1639.4,1372.9 1641.7,1373.0 1643.9,1373.2 1646.2,1373.3 1648.5,1373.5 1650.7,1373.6 1653.0,1373.8 1655.3,1374.0 1657.6,1374.1 1659.8,1374.3 1662.1,1374.4 1664.4,1374.6 1666.6,1374.7 1668.9,1374.9 1671.2,1375.0 1673.5,1375.2 1675.7,1375.4 1678.0,1375.5 1680.3,1375.7 1682.5,1375.8 1684.8,1376.0 1687.1,1376.1 1689.3,1376.3 1691.6,1376.4 1693.9,1376.6 1696.2,1376.7 1698.4,1376.9 1700.7,1377.0 1703.0,1377.2 1705.2,1377.4 1707.5,1377.5 1709.8,1377.7 1712.0,1377.8 1714.3,1378.0 1716.6,1378.1 1718.9,1378.3 1721.1,1378.4 1723.4,1378.6 1725.7,1378.7 1727.9,1378.9 1730.2,1379.0 1732.5,1379.2 1734.7,1379.3 1737.0,1379.5 1739.3,1379.6 1741.5,1379.8 1743.8,1380.0 1746.1,1380.1 1748.4,1380.3 1750.6,1380.4 1752.9,1380.6 1755.2,1380.7 1757.4,1380.9 1759.7,1381.0" fill="none" stroke="#000" stroke-width="8" stroke-linejoin="round" stroke-linecap="butt"/>
<polyline clip-path="url(#clipb)" points="401.2,847.7 402.0,850.2 402.8,852.6 403.6,855.1 404.4,857.6 405.2,860.0 406.1,862.5 406.9,865.0 407.8,867.5 408.6,869.9 409.5,872.4 410.3,874.9 411.2,877.3 412.1,879.8 413.0,882.3 413.9,884.7 414.8,887.2 415.7,889.6 416.6,892.1 417.5,894.6 418.4,897.0 419.4,899.5 420.3,901.9 421.3,904.4 422.2,906.9 423.2,909.3 424.2,911.8 425.2,914.2 426.2,916.7 427.2,919.1 428.2,921.6 429.2,924.0 430.2,926.4 431.2,928.9 432.3,931.3 433.3,933.8 434.4,936.2 435.4,938.6 436.5,941.1 437.5,943.5 438.6,945.9 439.7,948.3 440.8,950.7 441.9,953.2 443.0,955.6 444.2,958.0 445.3,960.4 446.4,962.8 447.6,965.2 448.7,967.6 449.9,970.0 451.0,972.4 452.2,974.8 453.4,977.2 454.6,979.5 455.8,981.9 457.0,984.3 458.2,986.7 459.4,989.0 460.7,991.4 461.9,993.7 463.1,996.1 464.4,998.4 465.7,1000.8 466.9,1003.1 468.2,1005.5 469.5,1007.8 470.8,1010.1 472.1,1012.4 473.4,1014.8 474.7,1017.1 476.1,1019.4 477.4,1021.7 478.7,1024.0 480.1,1026.3 481.5,1028.6 482.8,1030.9 484.2,1033.1 485.6,1035.4 487.0,1037.7 488.4,1039.9 489.8,1042.2 491.2,1044.4 492.7,1046.7 494.1,1048.9 495.6,1051.1 497.0,1053.4 498.5,1055.6 499.9,1057.8 501.4,1060.0 502.9,1062.2 504.4,1064.4 505.9,1066.6 507.4,1068.8 509.0,1070.9 510.5,1073.1 512.1,1075.3 513.6,1077.4 515.2,1079.5 516.7,1081.7 518.3,1083.8 519.9,1085.9 521.5,1088.0 523.1,1090.1 524.7,1092.2 526.4,1094.3 528.0,1096.4 529.6,1098.5 531.3,1100.5 532.9,1102.6 534.6,1104.6 536.3,1106.7 538.0,1108.7 539.7,1110.7 541.4,1112.7 543.1,1114.7 544.8,1116.7 546.6,1118.7 548.3,1120.6 550.1,1122.6 551.9,1124.5 553.6,1126.5 555.4,1128.4 557.2,1130.3 559.0,1132.2 560.8,1134.1 562.7,1136.0 564.5,1137.9 566.3,1139.8 568.2,1141.6 570.0,1143.5 571.9,1145.3 573.8,1147.1 575.7,1148.9 577.6,1150.7 579.5,1152.5 581.4,1154.3 583.4,1156.1 585.3,1157.8 587.3,1159.6 589.2,1161.3 591.2,1163.0 593.2,1164.7 595.2,1166.4 597.2,1168.1 599.2,1169.7 601.2,1171.4 603.2,1173.0 605.3,1174.7 607.3,1176.3 609.4,1177.9 611.5,1179.5 613.6,1181.1 615.7,1182.6 617.8,1184.2 619.9,1185.7 622.0,1187.2 624.1,1188.8 626.3,1190.3 628.4,1191.8 630.6,1193.2 632.7,1194.7 634.9,1196.2 637.1,1197.6 639.3,1199.1 641.5,1200.5 643.7,1201.9 645.9,1203.3 648.1,1204.7 650.4,1206.1 652.6,1207.4 654.8,1208.8 657.1,1210.2 659.4,1211.5 661.6,1212.8 663.9,1214.1 666.2,1215.5 668.5,1216.8 670.8,1218.0 673.1,1219.3 675.4,1220.6 677.7,1221.9 680.0,1223.1 682.3,1224.3 684.7,1225.6 687.0,1226.8 689.3,1228.0 691.7,1229.2 694.0,1230.4 696.4,1231.6 698.8,1232.8 701.1,1234.0 703.5,1235.1 705.9,1236.3 708.3,1237.4 710.7,1238.6 713.1,1239.7 715.5,1240.8 717.9,1241.9 720.3,1243.0 722.7,1244.1 725.1,1245.2 727.5,1246.3 729.9,1247.4 732.3,1248.4 734.8,1249.5 737.2,1250.6 739.6,1251.6 742.1,1252.7 744.5,1253.7 747.0,1254.7 749.4,1255.7 751.9,1256.7 754.3,1257.8 756.8,1258.8 759.2,1259.7 761.7,1260.7 764.1,1261.7 766.6,1262.7 769.1,1263.7 771.6,1264.6 774.0,1265.6 776.5,1266.5 779.0,1267.5 781.5,1268.4 783.9,1269.3 786.4,1270.2 788.9,1271.2 791.4,1272.1 793.9,1273.0 796.4,1273.9 798.9,1274.8 801.4,1275.7 803.9,1276.5 806.4,1277.4 808.9,1278.3 811.4,1279.1 813.9,1280.0 816.4,1280.9 818.9,1281.7 821.4,1282.5 824.0,1283.4 826.5,1284.2 829.0,1285.0 831.5,1285.9 834.0,1286.7 836.5,1287.5 839.1,1288.3 841.6,1289.1 844.1,1289.9 846.6,1290.7 849.2,1291.4 851.7,1292.2 854.2,1293.0 856.8,1293.8 859.3,1294.5 861.8,1295.3 864.4,1296.0 866.9,1296.8 869.4,1297.5 872.0,1298.3 874.5,1299.0 877.1,1299.7 879.6,1300.4 882.1,1301.2 884.7,1301.9 887.2,1302.6 889.8,1303.3 892.3,1304.0 894.9,1304.7 897.4,1305.4 900.0,1306.0 902.5,1306.7 905.1,1307.4 907.6,1308.1 910.2,1308.7 912.7,1309.4 915.3,1310.1 917.9,1310.7 920.4,1311.4 923.0,1312.0 925.5,1312.6 928.1,1313.3 930.7,1313.9 933.2,1314.5 935.8,1315.2 938.4,1315.8 940.9,1316.4 943.5,1317.0 946.1,1317.6 948.6,1318.2 951.2,1318.8 953.8,1319.4 956.3,1320.0 958.9,1320.6 961.5,1321.2 964.1,1321.7 966.6,1322.3 969.2,1322.9 971.8,1323.4 974.4,1324.0 976.9,1324.6 979.5,1325.1 982.1,1325.7 984.7,1326.2 987.3,1326.8 989.8,1327.3 992.4,1327.8 995.0,1328.4 997.6,1328.9 1000.2,1329.4 1002.8,1329.9 1005.3,1330.5 1007.9,1331.0 1010.5,1331.5 1013.1,1332.0 1015.7,1332.5 1018.3,1333.0 1020.9,1333.5 1023.5,1334.0 1026.1,1334.5 1028.7,1334.9 1031.2,1335.4 1033.8,1335.9 1036.4,1336.4 1039.0,1336.9 1041.6,1337.3 1044.2,1337.8 1046.8,1338.3 1049.4,1338.7 1052.0,1339.2 1054.6,1339.6 1057.2,1340.1 1059.8,1340.5 1062.4,1341.0 1065.0,1341.4 1067.6,1341.8 1070.2,1342.3 1072.8,1342.7 1075.4,1343.1 1078.0,1343.6 1080.6,1344.0 1083.3,1344.4 1085.9,1344.8 1088.5,1345.2 1091.1,1345.7 1093.7,1346.1 1096.3,1346.5 1098.9,1346.9 1101.5,1347.3 1104.1,1347.7 1106.7,1348.1 1109.3,1348.5 1111.9,1348.9 1114.6,1349.2 1117.2,1349.6 1119.8,1350.0 1122.4,1350.4 1125.0,1350.8 1127.6,1351.1 1130.2,1351.5 1132.9,1351.9 1135.5,1352.3 1138.1,1352.6 1140.7,1353.0 1143.3,1353.3 1145.9,1353.7 1148.6,1354.1 1151.2,1354.4 1153.8,1354.8 1156.4,1355.1 1159.0,1355.5 1161.6,1355.8 1164.3,1356.2 1166.9,1356.5 1169.5,1356.8 1172.1,1357.2 1174.7,1357.5 1177.4,1357.9 1180.0,1358.2 1182.6,1358.5 1185.2,1358.8 1187.9,1359.2 1190.5,1359.5 1193.1,1359.8 1195.7,1360.1 1198.3,1360.5 1201.0,1360.8 1203.6,1361.1 1206.2,1361.4 1208.8,1361.7 1211.5,1362.0 1214.1,1362.3 1216.7,1362.7 1219.3,1363.0 1222.0,1363.3 1224.6,1363.6 1227.2,1363.9 1229.8,1364.2 1232.5,1364.5 1235.1,1364.8 1237.7,1365.1 1240.3,1365.4 1243.0,1365.6 1245.6,1365.9 1248.2,1366.2 1250.8,1366.5 1253.5,1366.8 1256.1,1367.1 1258.7,1367.4 1261.4,1367.6 1264.0,1367.9 1266.6,1368.2 1269.2,1368.5 1271.9,1368.8 1274.5,1369.0 1277.1,1369.3 1279.8,1369.6 1282.4,1369.8 1285.0,1370.1 1287.7,1370.4 1290.3,1370.6 1292.9,1370.9 1295.5,1371.2 1298.2,1371.4 1300.8,1371.7 1303.4,1372.0 1306.1,1372.2 1308.7,1372.5 1311.3,1372.7 1314.0,1373.0 1316.6,1373.2 1319.2,1373.5 1321.9,1373.7 1324.5,1374.0 1327.1,1374.2 1329.8,1374.5 1332.4,1374.7 1335.0,1374.9 1337.6,1375.2 1340.3,1375.4 1342.9,1375.7 1345.5,1375.9 1348.2,1376.1 1350.8,1376.4 1353.5,1376.6 1356.1,1376.8 1358.7,1377.1 1361.4,1377.3 1364.0,1377.5 1366.6,1377.8 1369.3,1378.0 1371.9,1378.2 1374.5,1378.4 1377.2,1378.7 1379.8,1378.9 1382.4,1379.1 1385.1,1379.3 1387.7,1379.5 1390.3,1379.7 1393.0,1380.0 1395.6,1380.2 1398.2,1380.4 1400.9,1380.6 1403.5,1380.8 1406.2,1381.0 1408.8,1381.2 1411.4,1381.4 1414.1,1381.6 1416.7,1381.9 1419.3,1382.1 1422.0,1382.3 1424.6,1382.5 1427.2,1382.7 1429.9,1382.9 1432.5,1383.1 1435.2,1383.3 1437.8,1383.5 1440.4,1383.7 1443.1,1383.9 1445.7,1384.1 1448.3,1384.2 1451.0,1384.4 1453.6,1384.6 1456.3,1384.8 1458.9,1385.0 1461.5,1385.2 1464.2,1385.4 1466.8,1385.6 1469.4,1385.8 1472.1,1385.9 1474.7,1386.1 1477.4,1386.3 1480.0,1386.5 1482.6,1386.7 1485.3,1386.9 1487.9,1387.0 1490.6,1387.2 1493.2,1387.4 1495.8,1387.6 1498.5,1387.8 1501.1,1387.9 1503.7,1388.1 1506.4,1388.3 1509.0,1388.5 1511.7,1388.6 1514.3,1388.8 1516.9,1389.0 1519.6,1389.1 1522.2,1389.3 1524.9,1389.5 1527.5,1389.6 1530.1,1389.8 1532.8,1390.0 1535.4,1390.2 1538.1,1390.3 1540.7,1390.5 1543.3,1390.6 1546.0,1390.8 1548.6,1391.0 1551.3,1391.1 1553.9,1391.3 1556.5,1391.5 1559.2,1391.6 1561.8,1391.8 1564.5,1391.9 1567.1,1392.1 1569.7,1392.3 1572.4,1392.4 1575.0,1392.6 1577.7,1392.7 1580.3,1392.9 1582.9,1393.0 1585.6,1393.2 1588.2,1393.3 1590.8,1393.5 1593.5,1393.6 1596.1,1393.8 1598.8,1393.9 1601.4,1394.1 1604.0,1394.3 1606.7,1394.4 1609.3,1394.6 1612.0,1394.7 1614.6,1394.8 1617.2,1395.0 1619.9,1395.1 1622.5,1395.3 1625.2,1395.4 1627.8,1395.6 1630.4,1395.7 1633.1,1395.9 1635.7,1396.0 1638.4,1396.2 1641.0,1396.3 1643.6,1396.5 1646.3,1396.6 1648.9,1396.7 1651.6,1396.9 1654.2,1397.0 1656.8,1397.2 1659.5,1397.3 1662.1,1397.4 1664.7,1397.6 1667.4,1397.7 1670.0,1397.9 1672.7,1398.0 1675.3,1398.2 1677.9,1398.3 1680.6,1398.4 1683.2,1398.6 1685.9,1398.7 1688.5,1398.8 1691.1,1399.0 1693.8,1399.1 1696.4,1399.3 1699.0,1399.4 1701.7,1399.5 1704.3,1399.7 1707.0,1399.8 1709.6,1399.9 1712.2,1400.1 1714.9,1400.2 1717.5,1400.3 1720.1,1400.5 1722.8,1400.6 1725.4,1400.8 1728.1,1400.9 1730.7,1401.0 1733.3,1401.2 1736.0,1401.3 1738.6,1401.4 1741.2,1401.6 1743.9,1401.7 1746.5,1401.8 1749.2,1402.0 1751.8,1402.1 1754.4,1402.2 1757.1,1402.4 1759.7,1402.5" fill="none" stroke="#008000" stroke-width="8" stroke-linejoin="round" stroke-linecap="butt"/>
<polyline clip-path="url(#clipb)" points="430.6,847.7 431.8,849.9 432.9,852.0 434.1,854.2 435.3,856.4 436.5,858.6 437.7,860.7 438.9,862.9 440.1,865.1 441.3,867.2 442.5,869.4 443.7,871.6 444.9,873.7 446.2,875.9 447.4,878.0 448.6,880.2 449.9,882.4 451.1,884.5 452.4,886.7 453.6,888.8 454.9,891.0 456.2,893.1 457.4,895.3 458.7,897.4 460.0,899.6 461.3,901.7 462.6,903.8 463.9,906.0 465.2,908.1 466.5,910.2 467.8,912.4 469.1,914.5 470.5,916.6 471.8,918.7 473.1,920.8 474.5,923.0 475.8,925.1 477.2,927.2 478.5,929.3 479.9,931.4 481.3,933.5 482.7,935.6 484.0,937.7 485.4,939.7 486.8,941.8 488.2,943.9 489.6,946.0 491.0,948.1 492.4,950.1 493.9,952.2 495.3,954.3 496.7,956.3 498.2,958.4 499.6,960.4 501.1,962.5 502.5,964.5 504.0,966.5 505.5,968.6 506.9,970.6 508.4,972.6 509.9,974.6 511.4,976.7 512.9,978.7 514.4,980.7 515.9,982.7 517.5,984.7 519.0,986.6 520.5,988.6 522.1,990.6 523.6,992.6 525.2,994.6 526.7,996.5 528.3,998.5 529.9,1000.4 531.4,1002.4 533.0,1004.3 534.6,1006.2 536.2,1008.2 537.8,1010.1 539.4,1012.0 541.0,1013.9 542.7,1015.8 544.3,1017.7 545.9,1019.6 547.6,1021.5 549.2,1023.4 550.9,1025.2 552.6,1027.1 554.2,1029.0 555.9,1030.8 557.6,1032.7 559.3,1034.5 561.0,1036.3 562.7,1038.2 564.4,1040.0 566.1,1041.8 567.9,1043.6 569.6,1045.4 571.4,1047.2 573.1,1049.0 574.9,1050.7 576.6,1052.5 578.4,1054.3 580.2,1056.0 581.9,1057.8 583.7,1059.5 585.5,1061.2 587.3,1063.0 589.1,1064.7 591.0,1066.4 592.8,1068.1 594.6,1069.8 596.4,1071.5 598.3,1073.2 600.1,1074.8 602.0,1076.5 603.8,1078.1 605.7,1079.8 607.6,1081.4 609.5,1083.1 611.4,1084.7 613.2,1086.3 615.1,1087.9 617.1,1089.5 619.0,1091.1 620.9,1092.7 622.8,1094.3 624.7,1095.8 626.7,1097.4 628.6,1098.9 630.6,1100.5 632.5,1102.0 634.5,1103.5 636.5,1105.1 638.4,1106.6 640.4,1108.1 642.4,1109.6 644.4,1111.0 646.4,1112.5 648.4,1114.0 650.4,1115.4 652.4,1116.9 654.5,1118.3 656.5,1119.8 658.5,1121.2 660.6,1122.6 662.6,1124.0 664.7,1125.4 666.7,1126.8 668.8,1128.2 670.9,1129.6 672.9,1130.9 675.0,1132.3 677.1,1133.7 679.2,1135.0 681.3,1136.3 683.4,1137.7 685.5,1139.0 687.6,1140.3 689.7,1141.6 691.9,1142.9 694.0,1144.2 696.1,1145.5 698.3,1146.8 700.4,1148.0 702.5,1149.3 704.7,1150.5 706.9,1151.8 709.0,1153.0 711.2,1154.3 713.3,1155.5 715.5,1156.7 717.7,1157.9 719.9,1159.1 722.1,1160.3 724.3,1161.5 726.5,1162.7 728.7,1163.9 730.9,1165.0 733.1,1166.2 735.3,1167.4 737.5,1168.5 739.7,1169.7 742.0,1170.8 744.2,1171.9 746.4,1173.0 748.7,1174.2 750.9,1175.3 753.1,1176.4 755.4,1177.5 757.6,1178.6 759.9,1179.7 762.2,1180.7 764.4,1181.8 766.7,1182.9 769.0,1183.9 771.2,1185.0 773.5,1186.0 775.8,1187.1 778.1,1188.1 780.4,1189.1 782.6,1190.2 784.9,1191.2 787.2,1192.2 789.5,1193.2 791.8,1194.2 794.1,1195.2 796.4,1196.2 798.7,1197.2 801.1,1198.1 803.4,1199.1 805.7,1200.1 808.0,1201.0 810.3,1202.0 812.7,1202.9 815.0,1203.9 817.3,1204.8 819.6,1205.8 822.0,1206.7 824.3,1207.6 826.7,1208.5 829.0,1209.4 831.3,1210.3 833.7,1211.3 836.0,1212.1 838.4,1213.0 840.7,1213.9 843.1,1214.8 845.4,1215.7 847.8,1216.6 850.2,1217.4 852.5,1218.3 854.9,1219.2 857.2,1220.0 859.6,1220.9 862.0,1221.7 864.3,1222.5 866.7,1223.4 869.1,1224.2 871.5,1225.0 873.8,1225.9 876.2,1226.7 878.6,1227.5 881.0,1228.3 883.3,1229.1 885.7,1229.9 888.1,1230.7 890.5,1231.5 892.9,1232.3 895.2,1233.1 897.6,1233.9 900.0,1234.6 902.4,1235.4 904.8,1236.2 907.2,1236.9 909.6,1237.7 911.9,1238.5 914.3,1239.2 916.7,1240.0 919.1,1240.7 921.5,1241.4 923.9,1242.2 926.3,1242.9 928.7,1243.6 931.1,1244.4 933.5,1245.1 935.9,1245.8 938.3,1246.5 940.7,1247.2 943.1,1247.9 945.5,1248.6 947.9,1249.3 950.3,1250.0 952.7,1250.7 955.1,1251.4 957.5,1252.1 959.9,1252.8 962.3,1253.4 964.7,1254.1 967.1,1254.8 969.6,1255.4 972.0,1256.1 974.4,1256.8 976.8,1257.4 979.2,1258.1 981.6,1258.7 984.0,1259.4 986.4,1260.0 988.9,1260.6 991.3,1261.3 993.7,1261.9 996.1,1262.5 998.5,1263.2 1001.0,1263.8 1003.4,1264.4 1005.8,1265.0 1008.2,1265.6 1010.6,1266.2 1013.1,1266.8 1015.5,1267.4 1017.9,1268.0 1020.3,1268.6 1022.8,1269.2 1025.2,1269.8 1027.6,1270.4 1030.1,1270.9 1032.5,1271.5 1034.9,1272.1 1037.4,1272.6 1039.8,1273.2 1042.2,1273.8 1044.7,1274.3 1047.1,1274.9 1049.5,1275.4 1052.0,1276.0 1054.4,1276.5 1056.8,1277.1 1059.3,1277.6 1061.7,1278.2 1064.1,1278.7 1066.6,1279.2 1069.0,1279.7 1071.5,1280.3 1073.9,1280.8 1076.4,1281.3 1078.8,1281.8 1081.2,1282.3 1083.7,1282.8 1086.1,1283.4 1088.6,1283.9 1091.0,1284.4 1093.5,1284.9 1095.9,1285.4 1098.4,1285.8 1100.8,1286.3 1103.3,1286.8 1105.7,1287.3 1108.2,1287.8 1110.6,1288.3 1113.1,1288.7 1115.5,1289.2 1118.0,1289.7 1120.4,1290.1 1122.9,1290.6 1125.3,1291.1 1127.8,1291.5 1130.2,1292.0 1132.7,1292.4 1135.2,1292.9 1137.6,1293.3 1140.1,1293.8 1142.5,1294.2 1145.0,1294.7 1147.4,1295.1 1149.9,1295.5 1152.4,1296.0 1154.8,1296.4 1157.3,1296.8 1159.8,1297.2 1162.2,1297.7 1164.7,1298.1 1167.1,1298.5 1169.6,1298.9 1172.1,1299.3 1174.5,1299.7 1177.0,1300.1 1179.5,1300.5 1181.9,1300.9 1184.4,1301.3 1186.9,1301.7 1189.3,1302.1 1191.8,1302.5 1194.3,1302.9 1196.7,1303.3 1199.2,1303.7 1201.7,1304.1 1204.2,1304.4 1206.6,1304.8 1209.1,1305.2 1211.6,1305.6 1214.0,1305.9 1216.5,1306.3 1219.0,1306.7 1221.5,1307.0 1223.9,1307.4 1226.4,1307.8 1228.9,1308.1 1231.4,1308.5 1233.8,1308.8 1236.3,1309.2 1238.8,1309.5 1241.3,1309.9 1243.8,1310.2 1246.2,1310.6 1248.7,1310.9 1251.2,1311.2 1253.7,1311.6 1256.1,1311.9 1258.6,1312.2 1261.1,1312.6 1263.6,1312.9 1266.1,1313.2 1268.6,1313.6 1271.0,1313.9 1273.5,1314.2 1276.0,1314.5 1278.5,1314.8 1281.0,1315.2 1283.5,1315.5 1285.9,1315.8 1288.4,1316.1 1290.9,1316.4 1293.4,1316.7 1295.9,1317.0 1298.4,1317.3 1300.8,1317.6 1303.3,1317.9 1305.8,1318.2 1308.3,1318.5 1310.8,1318.8 1313.3,1319.1 1315.8,1319.4 1318.3,1319.7 1320.7,1320.0 1323.2,1320.2 1325.7,1320.5 1328.2,1320.8 1330.7,1321.1 1333.2,1321.4 1335.7,1321.7 1338.2,1321.9 1340.7,1322.2 1343.2,1322.5 1345.6,1322.8 1348.1,1323.0 1350.6,1323.3 1353.1,1323.6 1355.6,1323.8 1358.1,1324.1 1360.6,1324.4 1363.1,1324.6 1365.6,1324.9 1368.1,1325.1 1370.6,1325.4 1373.1,1325.7 1375.6,1325.9 1378.1,1326.2 1380.5,1326.4 1383.0,1326.7 1385.5,1326.9 1388.0,1327.2 1390.5,1327.4 1393.0,1327.7 1395.5,1327.9 1398.0,1328.1 1400.5,1328.4 1403.0,1328.6 1405.5,1328.9 1408.0,1329.1 1410.5,1329.3 1413.0,1329.6 1415.5,1329.8 1418.0,1330.1 1420.5,1330.3 1423.0,1330.5 1425.5,1330.8 1428.0,1331.0 1430.5,1331.2 1433.0,1331.4 1435.5,1331.7 1438.0,1331.9 1440.5,1332.1 1443.0,1332.3 1445.4,1332.6 1447.9,1332.8 1450.4,1333.0 1452.9,1333.2 1455.4,1333.5 1457.9,1333.7 1460.4,1333.9 1462.9,1334.1 1465.4,1334.3 1467.9,1334.5 1470.4,1334.8 1472.9,1335.0 1475.4,1335.2 1477.9,1335.4 1480.4,1335.6 1482.9,1335.8 1485.4,1336.0 1487.9,1336.2 1490.4,1336.5 1492.9,1336.7 1495.4,1336.9 1497.9,1337.1 1500.4,1337.3 1502.9,1337.5 1505.4,1337.7 1507.9,1337.9 1510.4,1338.1 1512.9,1338.3 1515.4,1338.5 1517.9,1338.7 1520.4,1338.9 1522.9,1339.1 1525.4,1339.3 1527.9,1339.5 1530.4,1339.7 1532.9,1339.9 1535.4,1340.1 1537.9,1340.3 1540.4,1340.5 1542.9,1340.7 1545.4,1340.9 1547.9,1341.1 1550.4,1341.3 1552.9,1341.5 1555.4,1341.7 1557.9,1341.9 1560.4,1342.1 1562.9,1342.3 1565.4,1342.5 1567.9,1342.7 1570.4,1342.9 1572.9,1343.1 1575.4,1343.3 1577.9,1343.4 1580.4,1343.6 1582.9,1343.8 1585.4,1344.0 1587.9,1344.2 1590.4,1344.4 1592.9,1344.6 1595.4,1344.8 1597.9,1345.0 1600.4,1345.2 1602.8,1345.4 1605.3,1345.6 1607.8,1345.8 1610.3,1346.0 1612.8,1346.2 1615.3,1346.3 1617.8,1346.5 1620.3,1346.7 1622.8,1346.9 1625.3,1347.1 1627.8,1347.3 1630.3,1347.5 1632.8,1347.7 1635.3,1347.9 1637.8,1348.1 1640.3,1348.3 1642.8,1348.5 1645.3,1348.7 1647.8,1348.9 1650.3,1349.1 1652.7,1349.2 1655.2,1349.4 1657.7,1349.6 1660.2,1349.8 1662.7,1350.0 1665.2,1350.2 1667.7,1350.4 1670.2,1350.6 1672.7,1350.8 1675.2,1351.0 1677.7,1351.2 1680.2,1351.4 1682.6,1351.6 1685.1,1351.8 1687.6,1352.0 1690.1,1352.2 1692.6,1352.4 1695.1,1352.6 1697.6,1352.8 1700.1,1353.0 1702.6,1353.2 1705.0,1353.4 1707.5,1353.6 1710.0,1353.8 1712.5,1354.0 1715.0,1354.2 1717.5,1354.4 1720.0,1354.6 1722.4,1354.9 1724.9,1355.1 1727.4,1355.3 1729.9,1355.5 1732.4,1355.7 1734.9,1355.9 1737.4,1356.1 1739.8,1356.3 1742.3,1356.5 1744.8,1356.7 1747.3,1357.0 1749.8,1357.2 1752.2,1357.4 1754.7,1357.6 1757.2,1357.8 1759.7,1358.0" fill="none" stroke="#FF0000" stroke-width="8" stroke-linejoin="round" stroke-linecap="butt"/>
<line x1="211.0" y1="646.0" x2="222.5" y2="646.0" stroke="#000" stroke-width="8" stroke-linecap="round"/>
<line x1="211.0" y1="547.7" x2="234.5" y2="547.7" stroke="#000" stroke-width="8" stroke-linecap="round"/>
<line x1="211.0" y1="449.5" x2="222.5" y2="449.5" stroke="#000" stroke-width="8" stroke-linecap="round"/>
<line x1="211.0" y1="351.2" x2="234.5" y2="351.2" stroke="#000" stroke-width="8" stroke-linecap="round"/>
<line x1="211.0" y1="253.0" x2="222.5" y2="253.0" stroke="#000" stroke-width="8" stroke-linecap="round"/>
<line x1="211.0" y1="154.7" x2="234.5" y2="154.7" stroke="#000" stroke-width="8" stroke-linecap="round"/>
<line x1="364.5" y1="744.2" x2="364.5" y2="720.7" stroke="#000" stroke-width="8" stroke-linecap="round"/>
<line x1="395.1" y1="744.2" x2="395.1" y2="732.7" stroke="#000" stroke-width="8" stroke-linecap="round"/>
<line x1="425.7" y1="744.2" x2="425.7" y2="732.7" stroke="#000" stroke-width="8" stroke-linecap="round"/>
<line x1="456.4" y1="744.2" x2="456.4" y2="732.7" stroke="#000" stroke-width="8" stroke-linecap="round"/>
<line x1="487.0" y1="744.2" x2="487.0" y2="732.7" stroke="#000" stroke-width="8" stroke-linecap="round"/>
<line x1="517.6" y1="744.2" x2="517.6" y2="732.7" stroke="#000" stroke-width="8" stroke-linecap="round"/>
<line x1="548.2" y1="744.2" x2="548.2" y2="732.7" stroke="#000" stroke-width="8" stroke-linecap="round"/>
<line x1="578.8" y1="744.2" x2="578.8" y2="732.7" stroke="#000" stroke-width="8" stroke-linecap="round"/>
<line x1="609.5" y1="744.2" x2="609.5" y2="732.7" stroke="#000" stroke-width="8" stroke-linecap="round"/>
<line x1="640.1" y1="744.2" x2="640.1" y2="732.7" stroke="#000" stroke-width="8" stroke-linecap="round"/>
<line x1="670.7" y1="744.2" x2="670.7" y2="720.7" stroke="#000" stroke-width="8" stroke-linecap="round"/>
<line x1="701.3" y1="744.2" x2="701.3" y2="732.7" stroke="#000" stroke-width="8" stroke-linecap="round"/>
<line x1="731.9" y1="744.2" x2="731.9" y2="732.7" stroke="#000" stroke-width="8" stroke-linecap="round"/>
<line x1="762.6" y1="744.2" x2="762.6" y2="732.7" stroke="#000" stroke-width="8" stroke-linecap="round"/>
<line x1="793.2" y1="744.2" x2="793.2" y2="732.7" stroke="#000" stroke-width="8" stroke-linecap="round"/>
<line x1="823.8" y1="744.2" x2="823.8" y2="732.7" stroke="#000" stroke-width="8" stroke-linecap="round"/>
<line x1="854.4" y1="744.2" x2="854.4" y2="732.7" stroke="#000" stroke-width="8" stroke-linecap="round"/>
<line x1="885.0" y1="744.2" x2="885.0" y2="732.7" stroke="#000" stroke-width="8" stroke-linecap="round"/>
<line x1="915.7" y1="744.2" x2="915.7" y2="732.7" stroke="#000" stroke-width="8" stroke-linecap="round"/>
<line x1="946.3" y1="744.2" x2="946.3" y2="732.7" stroke="#000" stroke-width="8" stroke-linecap="round"/>
<line x1="976.9" y1="744.2" x2="976.9" y2="720.7" stroke="#000" stroke-width="8" stroke-linecap="round"/>
<line x1="1007.5" y1="744.2" x2="1007.5" y2="732.7" stroke="#000" stroke-width="8" stroke-linecap="round"/>
<line x1="1038.1" y1="744.2" x2="1038.1" y2="732.7" stroke="#000" stroke-width="8" stroke-linecap="round"/>
<line x1="1068.8" y1="744.2" x2="1068.8" y2="732.7" stroke="#000" stroke-width="8" stroke-linecap="round"/>
<line x1="1099.4" y1="744.2" x2="1099.4" y2="732.7" stroke="#000" stroke-width="8" stroke-linecap="round"/>
<line x1="1130.0" y1="744.2" x2="1130.0" y2="732.7" stroke="#000" stroke-width="8" stroke-linecap="round"/>
<line x1="1160.6" y1="744.2" x2="1160.6" y2="732.7" stroke="#000" stroke-width="8" stroke-linecap="round"/>
<line x1="1191.2" y1="744.2" x2="1191.2" y2="732.7" stroke="#000" stroke-width="8" stroke-linecap="round"/>
<line x1="1221.9" y1="744.2" x2="1221.9" y2="732.7" stroke="#000" stroke-width="8" stroke-linecap="round"/>
<line x1="1252.5" y1="744.2" x2="1252.5" y2="732.7" stroke="#000" stroke-width="8" stroke-linecap="round"/>
<line x1="1283.1" y1="744.2" x2="1283.1" y2="720.7" stroke="#000" stroke-width="8" stroke-linecap="round"/>
<line x1="1313.7" y1="744.2" x2="1313.7" y2="732.7" stroke="#000" stroke-width="8" stroke-linecap="round"/>
<line x1="1344.3" y1="744.2" x2="1344.3" y2="732.7" stroke="#000" stroke-width="8" stroke-linecap="round"/>
<line x1="1375.0" y1="744.2" x2="1375.0" y2="732.7" stroke="#000" stroke-width="8" stroke-linecap="round"/>
<line x1="1405.6" y1="744.2" x2="1405.6" y2="732.7" stroke="#000" stroke-width="8" stroke-linecap="round"/>
<line x1="1436.2" y1="744.2" x2="1436.2" y2="732.7" stroke="#000" stroke-width="8" stroke-linecap="round"/>
<line x1="1466.8" y1="744.2" x2="1466.8" y2="732.7" stroke="#000" stroke-width="8" stroke-linecap="round"/>
<line x1="1497.4" y1="744.2" x2="1497.4" y2="732.7" stroke="#000" stroke-width="8" stroke-linecap="round"/>
<line x1="1528.1" y1="744.2" x2="1528.1" y2="732.7" stroke="#000" stroke-width="8" stroke-linecap="round"/>
<line x1="1558.7" y1="744.2" x2="1558.7" y2="732.7" stroke="#000" stroke-width="8" stroke-linecap="round"/>
<line x1="1589.3" y1="744.2" x2="1589.3" y2="720.7" stroke="#000" stroke-width="8" stroke-linecap="round"/>
<line x1="1619.9" y1="744.2" x2="1619.9" y2="732.7" stroke="#000" stroke-width="8" stroke-linecap="round"/>
<line x1="1650.5" y1="744.2" x2="1650.5" y2="732.7" stroke="#000" stroke-width="8" stroke-linecap="round"/>
<line x1="1681.2" y1="744.2" x2="1681.2" y2="732.7" stroke="#000" stroke-width="8" stroke-linecap="round"/>
<line x1="1711.8" y1="744.2" x2="1711.8" y2="732.7" stroke="#000" stroke-width="8" stroke-linecap="round"/>
<line x1="1742.4" y1="744.2" x2="1742.4" y2="732.7" stroke="#000" stroke-width="8" stroke-linecap="round"/>
<line x1="1773.0" y1="744.2" x2="1773.0" y2="732.7" stroke="#000" stroke-width="8" stroke-linecap="round"/>
<line x1="1803.6" y1="744.2" x2="1803.6" y2="732.7" stroke="#000" stroke-width="8" stroke-linecap="round"/>
<line x1="1834.3" y1="744.2" x2="1834.3" y2="732.7" stroke="#000" stroke-width="8" stroke-linecap="round"/>
<line x1="1864.9" y1="744.2" x2="1864.9" y2="732.7" stroke="#000" stroke-width="8" stroke-linecap="round"/>
<line x1="1894.0" y1="691.0" x2="1870.5" y2="691.0" stroke="#E8740F" stroke-width="8" stroke-linecap="round"/>
<line x1="1894.0" y1="585.1" x2="1882.5" y2="585.1" stroke="#E8740F" stroke-width="8" stroke-linecap="round"/>
<line x1="1894.0" y1="479.2" x2="1870.5" y2="479.2" stroke="#E8740F" stroke-width="8" stroke-linecap="round"/>
<line x1="1894.0" y1="373.3" x2="1882.5" y2="373.3" stroke="#E8740F" stroke-width="8" stroke-linecap="round"/>
<line x1="1894.0" y1="267.4" x2="1870.5" y2="267.4" stroke="#E8740F" stroke-width="8" stroke-linecap="round"/>
<line x1="1894.0" y1="161.5" x2="1882.5" y2="161.5" stroke="#E8740F" stroke-width="8" stroke-linecap="round"/>
<path d="M1890.0,55.5 H211 V744.2 H1890.0" fill="none" stroke="#000" stroke-width="8" stroke-linejoin="round" stroke-linecap="butt"/>
<line x1="1894" y1="59.5" x2="1894" y2="748.2" stroke="#E8740F" stroke-width="8" stroke-linecap="butt"/>
<line x1="211.0" y1="1402.8" x2="222.5" y2="1402.8" stroke="#000" stroke-width="8" stroke-linecap="round"/>
<line x1="211.0" y1="1304.5" x2="234.5" y2="1304.5" stroke="#000" stroke-width="8" stroke-linecap="round"/>
<line x1="211.0" y1="1206.2" x2="222.5" y2="1206.2" stroke="#000" stroke-width="8" stroke-linecap="round"/>
<line x1="211.0" y1="1108.0" x2="234.5" y2="1108.0" stroke="#000" stroke-width="8" stroke-linecap="round"/>
<line x1="211.0" y1="1009.8" x2="222.5" y2="1009.8" stroke="#000" stroke-width="8" stroke-linecap="round"/>
<line x1="211.0" y1="911.5" x2="234.5" y2="911.5" stroke="#000" stroke-width="8" stroke-linecap="round"/>
<line x1="364.5" y1="1501.0" x2="364.5" y2="1477.5" stroke="#000" stroke-width="8" stroke-linecap="round"/>
<line x1="364.5" y1="813.5" x2="364.5" y2="837.0" stroke="#000" stroke-width="8" stroke-linecap="round"/>
<line x1="395.1" y1="1501.0" x2="395.1" y2="1489.5" stroke="#000" stroke-width="8" stroke-linecap="round"/>
<line x1="395.1" y1="813.5" x2="395.1" y2="825.0" stroke="#000" stroke-width="8" stroke-linecap="round"/>
<line x1="425.7" y1="1501.0" x2="425.7" y2="1489.5" stroke="#000" stroke-width="8" stroke-linecap="round"/>
<line x1="425.7" y1="813.5" x2="425.7" y2="825.0" stroke="#000" stroke-width="8" stroke-linecap="round"/>
<line x1="456.4" y1="1501.0" x2="456.4" y2="1489.5" stroke="#000" stroke-width="8" stroke-linecap="round"/>
<line x1="456.4" y1="813.5" x2="456.4" y2="825.0" stroke="#000" stroke-width="8" stroke-linecap="round"/>
<line x1="487.0" y1="1501.0" x2="487.0" y2="1489.5" stroke="#000" stroke-width="8" stroke-linecap="round"/>
<line x1="487.0" y1="813.5" x2="487.0" y2="825.0" stroke="#000" stroke-width="8" stroke-linecap="round"/>
<line x1="517.6" y1="1501.0" x2="517.6" y2="1489.5" stroke="#000" stroke-width="8" stroke-linecap="round"/>
<line x1="517.6" y1="813.5" x2="517.6" y2="825.0" stroke="#000" stroke-width="8" stroke-linecap="round"/>
<line x1="548.2" y1="1501.0" x2="548.2" y2="1489.5" stroke="#000" stroke-width="8" stroke-linecap="round"/>
<line x1="548.2" y1="813.5" x2="548.2" y2="825.0" stroke="#000" stroke-width="8" stroke-linecap="round"/>
<line x1="578.8" y1="1501.0" x2="578.8" y2="1489.5" stroke="#000" stroke-width="8" stroke-linecap="round"/>
<line x1="578.8" y1="813.5" x2="578.8" y2="825.0" stroke="#000" stroke-width="8" stroke-linecap="round"/>
<line x1="609.5" y1="1501.0" x2="609.5" y2="1489.5" stroke="#000" stroke-width="8" stroke-linecap="round"/>
<line x1="609.5" y1="813.5" x2="609.5" y2="825.0" stroke="#000" stroke-width="8" stroke-linecap="round"/>
<line x1="640.1" y1="1501.0" x2="640.1" y2="1489.5" stroke="#000" stroke-width="8" stroke-linecap="round"/>
<line x1="640.1" y1="813.5" x2="640.1" y2="825.0" stroke="#000" stroke-width="8" stroke-linecap="round"/>
<line x1="670.7" y1="1501.0" x2="670.7" y2="1477.5" stroke="#000" stroke-width="8" stroke-linecap="round"/>
<line x1="670.7" y1="813.5" x2="670.7" y2="837.0" stroke="#000" stroke-width="8" stroke-linecap="round"/>
<line x1="701.3" y1="1501.0" x2="701.3" y2="1489.5" stroke="#000" stroke-width="8" stroke-linecap="round"/>
<line x1="701.3" y1="813.5" x2="701.3" y2="825.0" stroke="#000" stroke-width="8" stroke-linecap="round"/>
<line x1="731.9" y1="1501.0" x2="731.9" y2="1489.5" stroke="#000" stroke-width="8" stroke-linecap="round"/>
<line x1="731.9" y1="813.5" x2="731.9" y2="825.0" stroke="#000" stroke-width="8" stroke-linecap="round"/>
<line x1="762.6" y1="1501.0" x2="762.6" y2="1489.5" stroke="#000" stroke-width="8" stroke-linecap="round"/>
<line x1="762.6" y1="813.5" x2="762.6" y2="825.0" stroke="#000" stroke-width="8" stroke-linecap="round"/>
<line x1="793.2" y1="1501.0" x2="793.2" y2="1489.5" stroke="#000" stroke-width="8" stroke-linecap="round"/>
<line x1="793.2" y1="813.5" x2="793.2" y2="825.0" stroke="#000" stroke-width="8" stroke-linecap="round"/>
<line x1="823.8" y1="1501.0" x2="823.8" y2="1489.5" stroke="#000" stroke-width="8" stroke-linecap="round"/>
<line x1="823.8" y1="813.5" x2="823.8" y2="825.0" stroke="#000" stroke-width="8" stroke-linecap="round"/>
<line x1="854.4" y1="1501.0" x2="854.4" y2="1489.5" stroke="#000" stroke-width="8" stroke-linecap="round"/>
<line x1="854.4" y1="813.5" x2="854.4" y2="825.0" stroke="#000" stroke-width="8" stroke-linecap="round"/>
<line x1="885.0" y1="1501.0" x2="885.0" y2="1489.5" stroke="#000" stroke-width="8" stroke-linecap="round"/>
<line x1="885.0" y1="813.5" x2="885.0" y2="825.0" stroke="#000" stroke-width="8" stroke-linecap="round"/>
<line x1="915.7" y1="1501.0" x2="915.7" y2="1489.5" stroke="#000" stroke-width="8" stroke-linecap="round"/>
<line x1="915.7" y1="813.5" x2="915.7" y2="825.0" stroke="#000" stroke-width="8" stroke-linecap="round"/>
<line x1="946.3" y1="1501.0" x2="946.3" y2="1489.5" stroke="#000" stroke-width="8" stroke-linecap="round"/>
<line x1="946.3" y1="813.5" x2="946.3" y2="825.0" stroke="#000" stroke-width="8" stroke-linecap="round"/>
<line x1="976.9" y1="1501.0" x2="976.9" y2="1477.5" stroke="#000" stroke-width="8" stroke-linecap="round"/>
<line x1="976.9" y1="813.5" x2="976.9" y2="837.0" stroke="#000" stroke-width="8" stroke-linecap="round"/>
<line x1="1007.5" y1="1501.0" x2="1007.5" y2="1489.5" stroke="#000" stroke-width="8" stroke-linecap="round"/>
<line x1="1007.5" y1="813.5" x2="1007.5" y2="825.0" stroke="#000" stroke-width="8" stroke-linecap="round"/>
<line x1="1038.1" y1="1501.0" x2="1038.1" y2="1489.5" stroke="#000" stroke-width="8" stroke-linecap="round"/>
<line x1="1038.1" y1="813.5" x2="1038.1" y2="825.0" stroke="#000" stroke-width="8" stroke-linecap="round"/>
<line x1="1068.8" y1="1501.0" x2="1068.8" y2="1489.5" stroke="#000" stroke-width="8" stroke-linecap="round"/>
<line x1="1068.8" y1="813.5" x2="1068.8" y2="825.0" stroke="#000" stroke-width="8" stroke-linecap="round"/>
<line x1="1099.4" y1="1501.0" x2="1099.4" y2="1489.5" stroke="#000" stroke-width="8" stroke-linecap="round"/>
<line x1="1099.4" y1="813.5" x2="1099.4" y2="825.0" stroke="#000" stroke-width="8" stroke-linecap="round"/>
<line x1="1130.0" y1="1501.0" x2="1130.0" y2="1489.5" stroke="#000" stroke-width="8" stroke-linecap="round"/>
<line x1="1130.0" y1="813.5" x2="1130.0" y2="825.0" stroke="#000" stroke-width="8" stroke-linecap="round"/>
<line x1="1160.6" y1="1501.0" x2="1160.6" y2="1489.5" stroke="#000" stroke-width="8" stroke-linecap="round"/>
<line x1="1160.6" y1="813.5" x2="1160.6" y2="825.0" stroke="#000" stroke-width="8" stroke-linecap="round"/>
<line x1="1191.2" y1="1501.0" x2="1191.2" y2="1489.5" stroke="#000" stroke-width="8" stroke-linecap="round"/>
<line x1="1191.2" y1="813.5" x2="1191.2" y2="825.0" stroke="#000" stroke-width="8" stroke-linecap="round"/>
<line x1="1221.9" y1="1501.0" x2="1221.9" y2="1489.5" stroke="#000" stroke-width="8" stroke-linecap="round"/>
<line x1="1221.9" y1="813.5" x2="1221.9" y2="825.0" stroke="#000" stroke-width="8" stroke-linecap="round"/>
<line x1="1252.5" y1="1501.0" x2="1252.5" y2="1489.5" stroke="#000" stroke-width="8" stroke-linecap="round"/>
<line x1="1252.5" y1="813.5" x2="1252.5" y2="825.0" stroke="#000" stroke-width="8" stroke-linecap="round"/>
<line x1="1283.1" y1="1501.0" x2="1283.1" y2="1477.5" stroke="#000" stroke-width="8" stroke-linecap="round"/>
<line x1="1283.1" y1="813.5" x2="1283.1" y2="837.0" stroke="#000" stroke-width="8" stroke-linecap="round"/>
<line x1="1313.7" y1="1501.0" x2="1313.7" y2="1489.5" stroke="#000" stroke-width="8" stroke-linecap="round"/>
<line x1="1313.7" y1="813.5" x2="1313.7" y2="825.0" stroke="#000" stroke-width="8" stroke-linecap="round"/>
<line x1="1344.3" y1="1501.0" x2="1344.3" y2="1489.5" stroke="#000" stroke-width="8" stroke-linecap="round"/>
<line x1="1344.3" y1="813.5" x2="1344.3" y2="825.0" stroke="#000" stroke-width="8" stroke-linecap="round"/>
<line x1="1375.0" y1="1501.0" x2="1375.0" y2="1489.5" stroke="#000" stroke-width="8" stroke-linecap="round"/>
<line x1="1375.0" y1="813.5" x2="1375.0" y2="825.0" stroke="#000" stroke-width="8" stroke-linecap="round"/>
<line x1="1405.6" y1="1501.0" x2="1405.6" y2="1489.5" stroke="#000" stroke-width="8" stroke-linecap="round"/>
<line x1="1405.6" y1="813.5" x2="1405.6" y2="825.0" stroke="#000" stroke-width="8" stroke-linecap="round"/>
<line x1="1436.2" y1="1501.0" x2="1436.2" y2="1489.5" stroke="#000" stroke-width="8" stroke-linecap="round"/>
<line x1="1436.2" y1="813.5" x2="1436.2" y2="825.0" stroke="#000" stroke-width="8" stroke-linecap="round"/>
<line x1="1466.8" y1="1501.0" x2="1466.8" y2="1489.5" stroke="#000" stroke-width="8" stroke-linecap="round"/>
<line x1="1466.8" y1="813.5" x2="1466.8" y2="825.0" stroke="#000" stroke-width="8" stroke-linecap="round"/>
<line x1="1497.4" y1="1501.0" x2="1497.4" y2="1489.5" stroke="#000" stroke-width="8" stroke-linecap="round"/>
<line x1="1497.4" y1="813.5" x2="1497.4" y2="825.0" stroke="#000" stroke-width="8" stroke-linecap="round"/>
<line x1="1528.1" y1="1501.0" x2="1528.1" y2="1489.5" stroke="#000" stroke-width="8" stroke-linecap="round"/>
<line x1="1528.1" y1="813.5" x2="1528.1" y2="825.0" stroke="#000" stroke-width="8" stroke-linecap="round"/>
<line x1="1558.7" y1="1501.0" x2="1558.7" y2="1489.5" stroke="#000" stroke-width="8" stroke-linecap="round"/>
<line x1="1558.7" y1="813.5" x2="1558.7" y2="825.0" stroke="#000" stroke-width="8" stroke-linecap="round"/>
<line x1="1589.3" y1="1501.0" x2="1589.3" y2="1477.5" stroke="#000" stroke-width="8" stroke-linecap="round"/>
<line x1="1589.3" y1="813.5" x2="1589.3" y2="837.0" stroke="#000" stroke-width="8" stroke-linecap="round"/>
<line x1="1619.9" y1="1501.0" x2="1619.9" y2="1489.5" stroke="#000" stroke-width="8" stroke-linecap="round"/>
<line x1="1619.9" y1="813.5" x2="1619.9" y2="825.0" stroke="#000" stroke-width="8" stroke-linecap="round"/>
<line x1="1650.5" y1="1501.0" x2="1650.5" y2="1489.5" stroke="#000" stroke-width="8" stroke-linecap="round"/>
<line x1="1650.5" y1="813.5" x2="1650.5" y2="825.0" stroke="#000" stroke-width="8" stroke-linecap="round"/>
<line x1="1681.2" y1="1501.0" x2="1681.2" y2="1489.5" stroke="#000" stroke-width="8" stroke-linecap="round"/>
<line x1="1681.2" y1="813.5" x2="1681.2" y2="825.0" stroke="#000" stroke-width="8" stroke-linecap="round"/>
<line x1="1711.8" y1="1501.0" x2="1711.8" y2="1489.5" stroke="#000" stroke-width="8" stroke-linecap="round"/>
<line x1="1711.8" y1="813.5" x2="1711.8" y2="825.0" stroke="#000" stroke-width="8" stroke-linecap="round"/>
<line x1="1742.4" y1="1501.0" x2="1742.4" y2="1489.5" stroke="#000" stroke-width="8" stroke-linecap="round"/>
<line x1="1742.4" y1="813.5" x2="1742.4" y2="825.0" stroke="#000" stroke-width="8" stroke-linecap="round"/>
<line x1="1773.0" y1="1501.0" x2="1773.0" y2="1489.5" stroke="#000" stroke-width="8" stroke-linecap="round"/>
<line x1="1773.0" y1="813.5" x2="1773.0" y2="825.0" stroke="#000" stroke-width="8" stroke-linecap="round"/>
<line x1="1803.6" y1="1501.0" x2="1803.6" y2="1489.5" stroke="#000" stroke-width="8" stroke-linecap="round"/>
<line x1="1803.6" y1="813.5" x2="1803.6" y2="825.0" stroke="#000" stroke-width="8" stroke-linecap="round"/>
<line x1="1834.3" y1="1501.0" x2="1834.3" y2="1489.5" stroke="#000" stroke-width="8" stroke-linecap="round"/>
<line x1="1834.3" y1="813.5" x2="1834.3" y2="825.0" stroke="#000" stroke-width="8" stroke-linecap="round"/>
<line x1="1864.9" y1="1501.0" x2="1864.9" y2="1489.5" stroke="#000" stroke-width="8" stroke-linecap="round"/>
<line x1="1864.9" y1="813.5" x2="1864.9" y2="825.0" stroke="#000" stroke-width="8" stroke-linecap="round"/>
<line x1="1894.0" y1="1448.5" x2="1870.5" y2="1448.5" stroke="#000" stroke-width="8" stroke-linecap="round"/>
<line x1="1894.0" y1="1342.6" x2="1882.5" y2="1342.6" stroke="#000" stroke-width="8" stroke-linecap="round"/>
<line x1="1894.0" y1="1236.7" x2="1870.5" y2="1236.7" stroke="#000" stroke-width="8" stroke-linecap="round"/>
<line x1="1894.0" y1="1130.8" x2="1882.5" y2="1130.8" stroke="#000" stroke-width="8" stroke-linecap="round"/>
<line x1="1894.0" y1="1024.9" x2="1870.5" y2="1024.9" stroke="#000" stroke-width="8" stroke-linecap="round"/>
<line x1="1894.0" y1="919.0" x2="1882.5" y2="919.0" stroke="#000" stroke-width="8" stroke-linecap="round"/>
<path d="M1894,813.5 H211 V1501 H1894" fill="none" stroke="#000" stroke-width="8" stroke-linejoin="round" stroke-linecap="square"/>
<line x1="1894" y1="813.5" x2="1894" y2="1501" stroke="#000" stroke-width="8" stroke-linecap="square"/>
<line x1="363.6" y1="380.7" x2="282" y2="380.7" stroke="#000" stroke-width="8" stroke-linecap="round"/>
<polygon points="232.5,380.7 281,366.3 281,395.09999999999997" fill="#000" stroke="#000" stroke-width="2" stroke-linejoin="round"/>
<line x1="1725" y1="231.2" x2="1817" y2="231.2" stroke="#E8740F" stroke-width="8" stroke-linecap="round"/>
<polygon points="1869.5,231.2 1819,216.39999999999998 1819,246.0" fill="#E8740F" stroke="#E8740F" stroke-width="2" stroke-linejoin="round"/>
<line x1="395.3" y1="1156.2" x2="288" y2="1156.2" stroke="#000" stroke-width="8" stroke-linecap="round"/>
<polygon points="237,1156.2 286,1141.2 286,1171.2" fill="#000" stroke="#000" stroke-width="2" stroke-linejoin="round"/>
<line x1="1678.5" y1="1018.2" x2="1766" y2="1018.2" stroke="#000" stroke-width="8" stroke-linecap="round"/>
<polygon points="1820.5,1018.2 1768,1003.2 1768,1033.2" fill="#000" stroke="#000" stroke-width="2" stroke-linejoin="round"/>
<text x="185.5" y="763.2" font-size="69" fill="#000" text-anchor="end">1</text>
<text x="185.5" y="566.7" font-size="69" fill="#000" text-anchor="end">2</text>
<text x="185.5" y="370.2" font-size="69" fill="#000" text-anchor="end">3</text>
<text x="185.5" y="173.7" font-size="69" fill="#000" text-anchor="end">4</text>
<text x="1919" y="710.0" font-size="69" fill="#E8740F" text-anchor="start">0</text>
<text x="1919" y="498.2" font-size="69" fill="#E8740F" text-anchor="start">100</text>
<text x="1919" y="286.4" font-size="69" fill="#E8740F" text-anchor="start">200</text>
<text x="185.5" y="1520.0" font-size="69" fill="#000" text-anchor="end">1</text>
<text x="185.5" y="1323.5" font-size="69" fill="#000" text-anchor="end">2</text>
<text x="185.5" y="1127.0" font-size="69" fill="#000" text-anchor="end">3</text>
<text x="185.5" y="930.5" font-size="69" fill="#000" text-anchor="end">4</text>
<text x="1919" y="1467.5" font-size="69" fill="#000" text-anchor="start">0</text>
<text x="1919" y="1255.7" font-size="69" fill="#000" text-anchor="start">100</text>
<text x="1919" y="1043.9" font-size="69" fill="#000" text-anchor="start">200</text>
<text x="364.5" y="1579" font-size="69" fill="#000" text-anchor="middle">0</text>
<text x="670.7" y="1579" font-size="69" fill="#000" text-anchor="middle">1</text>
<text x="976.9" y="1579" font-size="69" fill="#000" text-anchor="middle">2</text>
<text x="1283.1" y="1579" font-size="69" fill="#000" text-anchor="middle">3</text>
<text x="1589.3" y="1579" font-size="69" fill="#000" text-anchor="middle">4</text>
<text x="1045" y="1660" font-size="69" fill="#000" text-anchor="middle">crystal length (mm)</text>
<text transform="translate(105.5,777.8) rotate(-90)" font-size="69" text-anchor="middle">compressibility factor</text>
<text transform="translate(2113,779.6) rotate(-90)" font-size="69" text-anchor="middle">min. beam waist (µm)</text>
<text x="250" y="139.5" font-size="69" fill="#000" text-anchor="start">(a)</text>
<text x="250" y="897" font-size="69" fill="#000" text-anchor="start">(b)</text>
<text x="449.5" y="169.5" font-size="69" fill="#000" text-anchor="start">9µJ</text>
<text x="387" y="347" font-size="69" fill="#000" text-anchor="start">3µJ</text>
<text x="287.8" y="491.2" font-size="69" fill="#000" text-anchor="start">1µJ</text>
<text x="1286.5" y="238" font-size="69" fill="#E8740F" text-anchor="start">9µJ</text>
<text x="1511.5" y="313.6" font-size="69" fill="#E8740F" text-anchor="start">3µJ</text>
<text x="1618.8" y="504" font-size="69" fill="#E8740F" text-anchor="start">1µJ</text>
<text x="308" y="1116.4" font-size="69" fill="#000" text-anchor="start">MgF</text>
<text x="446.5" y="1153" font-size="60" fill="#000" text-anchor="start">2</text>
<text x="1505.8" y="1307.5" font-size="69" fill="#FF0000" text-anchor="start">FS</text>
<text x="1049.7" y="1409.5" font-size="69" fill="#008000" text-anchor="start">Sa</text>
</svg>
</body></html>
